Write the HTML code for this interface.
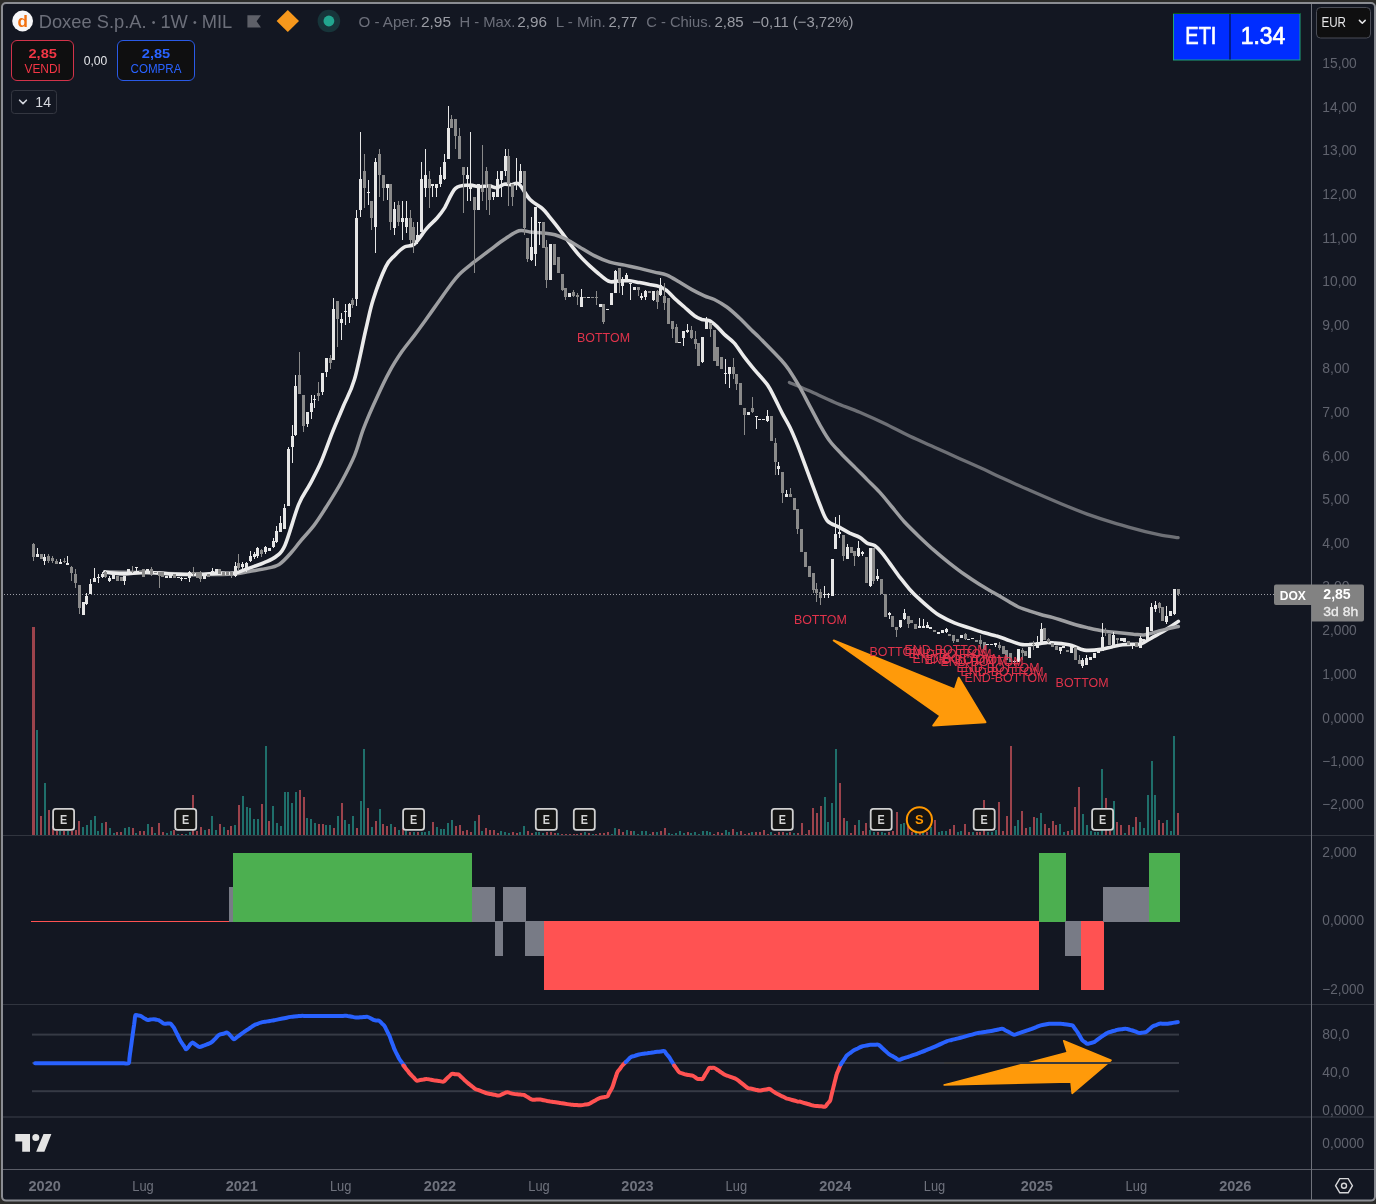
<!DOCTYPE html>
<html lang="it"><head><meta charset="utf-8"><title>Doxee S.p.A. 1W MIL</title>
<style>html,body{margin:0;padding:0;background:#2c2c2a;}svg{display:block;font-family:'Liberation Sans', 'DejaVu Sans', sans-serif;}</style>
</head><body>
<svg width="1376" height="1204" viewBox="0 0 1376 1204">
<rect x="0" y="0" width="1376" height="1204" fill="#2c2c2a"/>
<rect x="2" y="3" width="1373" height="1197.6" rx="4" ry="4" fill="#131722" stroke="#8b8d93" stroke-width="2"/>
<rect x="3" y="835" width="1371" height="1" fill="#31353f"/>
<rect x="3" y="1004" width="1371" height="1" fill="#31353f"/>
<rect x="3" y="1116.3" width="1371" height="1.4" fill="#31353f"/>
<rect x="3" y="1169" width="1371" height="1" fill="#5a5d67"/>
<rect x="1311" y="4" width="1" height="1196" fill="#6f727b"/>
<rect x="32" y="1033.6" width="1147" height="2" fill="#363a45"/>
<rect x="32" y="1062" width="1147" height="2" fill="#363a45"/>
<rect x="32" y="1090.2" width="1147" height="2" fill="#363a45"/>
<line x1="4" y1="594.5" x2="1274" y2="594.5" stroke="#9c9ea6" stroke-width="1" stroke-dasharray="1 2" shape-rendering="crispEdges"/>
<g shape-rendering="crispEdges">
<rect x="32" y="627" width="3" height="208" fill="#9c434c"/>
<rect x="36" y="730" width="2" height="105" fill="#1f6f6b"/>
<rect x="40" y="816" width="2" height="19" fill="#9c434c"/>
<rect x="44" y="783" width="2" height="52" fill="#1f6f6b"/>
<rect x="48" y="810" width="2" height="25" fill="#9c434c"/>
<rect x="52" y="826" width="2" height="9" fill="#9c434c"/>
<rect x="56" y="831" width="2" height="4" fill="#9c434c"/>
<rect x="59" y="831" width="2" height="4" fill="#1f6f6b"/>
<rect x="63" y="831" width="2" height="4" fill="#9c434c"/>
<rect x="67" y="831" width="2" height="4" fill="#1f6f6b"/>
<rect x="71" y="831" width="2" height="4" fill="#9c434c"/>
<rect x="75" y="830" width="2" height="5" fill="#9c434c"/>
<rect x="78" y="821" width="2" height="14" fill="#9c434c"/>
<rect x="82" y="827" width="2" height="8" fill="#1f6f6b"/>
<rect x="86" y="825" width="2" height="10" fill="#1f6f6b"/>
<rect x="90" y="820" width="2" height="15" fill="#1f6f6b"/>
<rect x="94" y="816" width="2" height="19" fill="#1f6f6b"/>
<rect x="97" y="831" width="2" height="4" fill="#1f6f6b"/>
<rect x="101" y="823" width="2" height="12" fill="#1f6f6b"/>
<rect x="105" y="822" width="2" height="13" fill="#9c434c"/>
<rect x="109" y="828" width="2" height="7" fill="#1f6f6b"/>
<rect x="113" y="833" width="2" height="2" fill="#1f6f6b"/>
<rect x="116" y="832" width="2" height="3" fill="#9c434c"/>
<rect x="120" y="832" width="2" height="3" fill="#9c434c"/>
<rect x="124" y="828" width="2" height="7" fill="#1f6f6b"/>
<rect x="128" y="827" width="2" height="8" fill="#1f6f6b"/>
<rect x="132" y="828" width="2" height="7" fill="#9c434c"/>
<rect x="135" y="833" width="2" height="2" fill="#1f6f6b"/>
<rect x="139" y="831" width="2" height="4" fill="#9c434c"/>
<rect x="143" y="831" width="2" height="4" fill="#9c434c"/>
<rect x="147" y="824" width="2" height="11" fill="#1f6f6b"/>
<rect x="151" y="827" width="2" height="8" fill="#9c434c"/>
<rect x="154" y="833" width="2" height="2" fill="#1f6f6b"/>
<rect x="158" y="823" width="2" height="12" fill="#9c434c"/>
<rect x="162" y="832" width="2" height="3" fill="#9c434c"/>
<rect x="166" y="833" width="2" height="2" fill="#1f6f6b"/>
<rect x="170" y="831" width="2" height="4" fill="#1f6f6b"/>
<rect x="173" y="830" width="2" height="5" fill="#9c434c"/>
<rect x="177" y="834" width="2" height="1" fill="#1f6f6b"/>
<rect x="181" y="834" width="2" height="1" fill="#9c434c"/>
<rect x="185" y="834" width="2" height="1" fill="#1f6f6b"/>
<rect x="189" y="832" width="2" height="3" fill="#1f6f6b"/>
<rect x="192" y="795" width="2" height="40" fill="#9c434c"/>
<rect x="196" y="831" width="2" height="4" fill="#9c434c"/>
<rect x="200" y="827" width="2" height="8" fill="#9c434c"/>
<rect x="204" y="830" width="2" height="5" fill="#1f6f6b"/>
<rect x="208" y="829" width="2" height="6" fill="#9c434c"/>
<rect x="211" y="816" width="2" height="19" fill="#1f6f6b"/>
<rect x="215" y="830" width="2" height="5" fill="#1f6f6b"/>
<rect x="219" y="824" width="2" height="11" fill="#9c434c"/>
<rect x="223" y="827" width="2" height="8" fill="#1f6f6b"/>
<rect x="227" y="830" width="2" height="5" fill="#9c434c"/>
<rect x="230" y="826" width="2" height="9" fill="#9c434c"/>
<rect x="234" y="825" width="2" height="10" fill="#1f6f6b"/>
<rect x="238" y="805" width="2" height="30" fill="#9c434c"/>
<rect x="242" y="796" width="2" height="39" fill="#1f6f6b"/>
<rect x="246" y="807" width="2" height="28" fill="#1f6f6b"/>
<rect x="249" y="808" width="2" height="27" fill="#1f6f6b"/>
<rect x="253" y="819" width="2" height="16" fill="#1f6f6b"/>
<rect x="257" y="819" width="2" height="16" fill="#1f6f6b"/>
<rect x="261" y="804" width="2" height="31" fill="#9c434c"/>
<rect x="265" y="746" width="2" height="89" fill="#1f6f6b"/>
<rect x="268" y="821" width="2" height="14" fill="#9c434c"/>
<rect x="272" y="806" width="2" height="29" fill="#1f6f6b"/>
<rect x="276" y="823" width="2" height="12" fill="#1f6f6b"/>
<rect x="280" y="826" width="2" height="9" fill="#1f6f6b"/>
<rect x="284" y="792" width="2" height="43" fill="#1f6f6b"/>
<rect x="287" y="792" width="2" height="43" fill="#1f6f6b"/>
<rect x="291" y="803" width="2" height="32" fill="#1f6f6b"/>
<rect x="295" y="792" width="2" height="43" fill="#1f6f6b"/>
<rect x="299" y="790" width="2" height="45" fill="#9c434c"/>
<rect x="303" y="797" width="2" height="38" fill="#9c434c"/>
<rect x="306" y="818" width="2" height="17" fill="#1f6f6b"/>
<rect x="310" y="819" width="2" height="16" fill="#1f6f6b"/>
<rect x="314" y="823" width="2" height="12" fill="#1f6f6b"/>
<rect x="318" y="824" width="2" height="11" fill="#9c434c"/>
<rect x="322" y="824" width="2" height="11" fill="#9c434c"/>
<rect x="325" y="825" width="2" height="10" fill="#1f6f6b"/>
<rect x="329" y="825" width="2" height="10" fill="#1f6f6b"/>
<rect x="333" y="828" width="2" height="7" fill="#9c434c"/>
<rect x="337" y="816" width="2" height="19" fill="#1f6f6b"/>
<rect x="341" y="803" width="2" height="32" fill="#9c434c"/>
<rect x="344" y="820" width="2" height="15" fill="#1f6f6b"/>
<rect x="348" y="824" width="2" height="11" fill="#1f6f6b"/>
<rect x="352" y="816" width="2" height="19" fill="#1f6f6b"/>
<rect x="356" y="828" width="2" height="7" fill="#9c434c"/>
<rect x="360" y="801" width="2" height="34" fill="#1f6f6b"/>
<rect x="363" y="749" width="2" height="86" fill="#1f6f6b"/>
<rect x="367" y="808" width="2" height="27" fill="#9c434c"/>
<rect x="371" y="827" width="2" height="8" fill="#1f6f6b"/>
<rect x="375" y="821" width="2" height="14" fill="#9c434c"/>
<rect x="379" y="809" width="2" height="26" fill="#1f6f6b"/>
<rect x="382" y="824" width="2" height="11" fill="#9c434c"/>
<rect x="386" y="826" width="2" height="9" fill="#9c434c"/>
<rect x="390" y="824" width="2" height="11" fill="#1f6f6b"/>
<rect x="394" y="827" width="2" height="8" fill="#9c434c"/>
<rect x="398" y="830" width="2" height="5" fill="#1f6f6b"/>
<rect x="402" y="828" width="2" height="7" fill="#9c434c"/>
<rect x="405" y="831" width="2" height="4" fill="#1f6f6b"/>
<rect x="409" y="832" width="2" height="3" fill="#9c434c"/>
<rect x="413" y="832" width="2" height="3" fill="#1f6f6b"/>
<rect x="417" y="832" width="2" height="3" fill="#9c434c"/>
<rect x="421" y="832" width="2" height="3" fill="#1f6f6b"/>
<rect x="424" y="832" width="2" height="3" fill="#1f6f6b"/>
<rect x="428" y="831" width="2" height="4" fill="#1f6f6b"/>
<rect x="432" y="822" width="2" height="13" fill="#9c434c"/>
<rect x="436" y="827" width="2" height="8" fill="#1f6f6b"/>
<rect x="440" y="829" width="2" height="6" fill="#1f6f6b"/>
<rect x="443" y="829" width="2" height="6" fill="#1f6f6b"/>
<rect x="447" y="823" width="2" height="12" fill="#1f6f6b"/>
<rect x="451" y="820" width="2" height="15" fill="#1f6f6b"/>
<rect x="455" y="826" width="2" height="9" fill="#9c434c"/>
<rect x="459" y="825" width="2" height="10" fill="#9c434c"/>
<rect x="462" y="831" width="2" height="4" fill="#9c434c"/>
<rect x="466" y="830" width="2" height="5" fill="#9c434c"/>
<rect x="470" y="832" width="2" height="3" fill="#9c434c"/>
<rect x="474" y="821" width="2" height="14" fill="#1f6f6b"/>
<rect x="478" y="815" width="2" height="20" fill="#9c434c"/>
<rect x="481" y="831" width="2" height="4" fill="#1f6f6b"/>
<rect x="485" y="828" width="2" height="7" fill="#9c434c"/>
<rect x="489" y="830" width="2" height="5" fill="#9c434c"/>
<rect x="493" y="830" width="2" height="5" fill="#9c434c"/>
<rect x="497" y="833" width="2" height="2" fill="#9c434c"/>
<rect x="500" y="831" width="2" height="4" fill="#1f6f6b"/>
<rect x="504" y="832" width="2" height="3" fill="#1f6f6b"/>
<rect x="508" y="833" width="2" height="2" fill="#1f6f6b"/>
<rect x="512" y="832" width="2" height="3" fill="#9c434c"/>
<rect x="516" y="833" width="2" height="2" fill="#9c434c"/>
<rect x="519" y="832" width="2" height="3" fill="#1f6f6b"/>
<rect x="523" y="826" width="2" height="9" fill="#1f6f6b"/>
<rect x="527" y="831" width="2" height="4" fill="#9c434c"/>
<rect x="531" y="833" width="2" height="2" fill="#9c434c"/>
<rect x="535" y="832" width="2" height="3" fill="#1f6f6b"/>
<rect x="538" y="832" width="2" height="3" fill="#1f6f6b"/>
<rect x="542" y="833" width="2" height="2" fill="#1f6f6b"/>
<rect x="546" y="832" width="2" height="3" fill="#9c434c"/>
<rect x="550" y="832" width="2" height="3" fill="#9c434c"/>
<rect x="554" y="833" width="2" height="2" fill="#9c434c"/>
<rect x="557" y="833" width="2" height="2" fill="#1f6f6b"/>
<rect x="561" y="834" width="2" height="1" fill="#9c434c"/>
<rect x="565" y="834" width="2" height="1" fill="#9c434c"/>
<rect x="569" y="834" width="2" height="1" fill="#9c434c"/>
<rect x="573" y="834" width="2" height="1" fill="#9c434c"/>
<rect x="576" y="834" width="2" height="1" fill="#9c434c"/>
<rect x="580" y="833" width="2" height="2" fill="#9c434c"/>
<rect x="584" y="832" width="2" height="3" fill="#1f6f6b"/>
<rect x="588" y="833" width="2" height="2" fill="#9c434c"/>
<rect x="592" y="834" width="2" height="1" fill="#1f6f6b"/>
<rect x="595" y="834" width="2" height="1" fill="#9c434c"/>
<rect x="599" y="833" width="2" height="2" fill="#9c434c"/>
<rect x="603" y="833" width="2" height="2" fill="#9c434c"/>
<rect x="607" y="832" width="2" height="3" fill="#9c434c"/>
<rect x="611" y="834" width="2" height="1" fill="#1f6f6b"/>
<rect x="614" y="828" width="2" height="7" fill="#1f6f6b"/>
<rect x="618" y="829" width="2" height="6" fill="#9c434c"/>
<rect x="622" y="832" width="2" height="3" fill="#9c434c"/>
<rect x="626" y="830" width="2" height="5" fill="#1f6f6b"/>
<rect x="630" y="831" width="2" height="4" fill="#9c434c"/>
<rect x="633" y="831" width="2" height="4" fill="#1f6f6b"/>
<rect x="637" y="834" width="2" height="1" fill="#1f6f6b"/>
<rect x="641" y="831" width="2" height="4" fill="#1f6f6b"/>
<rect x="645" y="831" width="2" height="4" fill="#1f6f6b"/>
<rect x="649" y="834" width="2" height="1" fill="#1f6f6b"/>
<rect x="652" y="832" width="2" height="3" fill="#9c434c"/>
<rect x="656" y="832" width="2" height="3" fill="#1f6f6b"/>
<rect x="660" y="831" width="2" height="4" fill="#9c434c"/>
<rect x="664" y="828" width="2" height="7" fill="#9c434c"/>
<rect x="668" y="833" width="2" height="2" fill="#1f6f6b"/>
<rect x="671" y="834" width="2" height="1" fill="#1f6f6b"/>
<rect x="675" y="833" width="2" height="2" fill="#1f6f6b"/>
<rect x="679" y="831" width="2" height="4" fill="#1f6f6b"/>
<rect x="683" y="833" width="2" height="2" fill="#1f6f6b"/>
<rect x="687" y="832" width="2" height="3" fill="#9c434c"/>
<rect x="690" y="833" width="2" height="2" fill="#1f6f6b"/>
<rect x="694" y="832" width="2" height="3" fill="#1f6f6b"/>
<rect x="698" y="834" width="2" height="1" fill="#1f6f6b"/>
<rect x="702" y="831" width="2" height="4" fill="#1f6f6b"/>
<rect x="706" y="831" width="2" height="4" fill="#1f6f6b"/>
<rect x="709" y="832" width="2" height="3" fill="#1f6f6b"/>
<rect x="713" y="834" width="2" height="1" fill="#9c434c"/>
<rect x="717" y="832" width="2" height="3" fill="#9c434c"/>
<rect x="721" y="833" width="2" height="2" fill="#9c434c"/>
<rect x="725" y="830" width="2" height="5" fill="#1f6f6b"/>
<rect x="728" y="832" width="2" height="3" fill="#1f6f6b"/>
<rect x="732" y="829" width="2" height="6" fill="#9c434c"/>
<rect x="736" y="832" width="2" height="3" fill="#1f6f6b"/>
<rect x="740" y="831" width="2" height="4" fill="#9c434c"/>
<rect x="744" y="834" width="2" height="1" fill="#9c434c"/>
<rect x="748" y="833" width="2" height="2" fill="#9c434c"/>
<rect x="751" y="832" width="2" height="3" fill="#1f6f6b"/>
<rect x="755" y="832" width="2" height="3" fill="#9c434c"/>
<rect x="759" y="832" width="2" height="3" fill="#9c434c"/>
<rect x="763" y="830" width="2" height="5" fill="#9c434c"/>
<rect x="767" y="834" width="2" height="1" fill="#9c434c"/>
<rect x="770" y="832" width="2" height="3" fill="#1f6f6b"/>
<rect x="774" y="834" width="2" height="1" fill="#9c434c"/>
<rect x="778" y="832" width="2" height="3" fill="#9c434c"/>
<rect x="782" y="832" width="2" height="3" fill="#9c434c"/>
<rect x="786" y="833" width="2" height="2" fill="#1f6f6b"/>
<rect x="789" y="832" width="2" height="3" fill="#9c434c"/>
<rect x="793" y="833" width="2" height="2" fill="#1f6f6b"/>
<rect x="797" y="833" width="2" height="2" fill="#9c434c"/>
<rect x="801" y="823" width="2" height="12" fill="#9c434c"/>
<rect x="805" y="834" width="2" height="1" fill="#9c434c"/>
<rect x="808" y="830" width="2" height="5" fill="#9c434c"/>
<rect x="812" y="808" width="2" height="27" fill="#9c434c"/>
<rect x="816" y="813" width="2" height="22" fill="#9c434c"/>
<rect x="820" y="806" width="2" height="29" fill="#9c434c"/>
<rect x="824" y="797" width="2" height="38" fill="#1f6f6b"/>
<rect x="827" y="822" width="2" height="13" fill="#1f6f6b"/>
<rect x="831" y="803" width="2" height="32" fill="#1f6f6b"/>
<rect x="835" y="749" width="2" height="86" fill="#1f6f6b"/>
<rect x="839" y="783" width="2" height="52" fill="#9c434c"/>
<rect x="843" y="818" width="2" height="17" fill="#9c434c"/>
<rect x="846" y="821" width="2" height="14" fill="#1f6f6b"/>
<rect x="850" y="833" width="2" height="2" fill="#9c434c"/>
<rect x="854" y="825" width="2" height="10" fill="#9c434c"/>
<rect x="858" y="820" width="2" height="15" fill="#1f6f6b"/>
<rect x="862" y="831" width="2" height="4" fill="#9c434c"/>
<rect x="865" y="823" width="2" height="12" fill="#9c434c"/>
<rect x="869" y="830" width="2" height="5" fill="#1f6f6b"/>
<rect x="873" y="832" width="2" height="3" fill="#1f6f6b"/>
<rect x="877" y="832" width="2" height="3" fill="#9c434c"/>
<rect x="881" y="832" width="2" height="3" fill="#1f6f6b"/>
<rect x="884" y="833" width="2" height="2" fill="#1f6f6b"/>
<rect x="888" y="832" width="2" height="3" fill="#9c434c"/>
<rect x="892" y="831" width="2" height="4" fill="#9c434c"/>
<rect x="896" y="812" width="2" height="23" fill="#9c434c"/>
<rect x="900" y="824" width="2" height="11" fill="#1f6f6b"/>
<rect x="903" y="823" width="2" height="12" fill="#1f6f6b"/>
<rect x="907" y="826" width="2" height="9" fill="#9c434c"/>
<rect x="911" y="832" width="2" height="3" fill="#9c434c"/>
<rect x="915" y="830" width="2" height="5" fill="#1f6f6b"/>
<rect x="919" y="833" width="2" height="2" fill="#9c434c"/>
<rect x="922" y="832" width="2" height="3" fill="#1f6f6b"/>
<rect x="926" y="832" width="2" height="3" fill="#9c434c"/>
<rect x="930" y="827" width="2" height="8" fill="#1f6f6b"/>
<rect x="934" y="820" width="2" height="15" fill="#9c434c"/>
<rect x="938" y="832" width="2" height="3" fill="#1f6f6b"/>
<rect x="941" y="831" width="2" height="4" fill="#1f6f6b"/>
<rect x="945" y="831" width="2" height="4" fill="#1f6f6b"/>
<rect x="949" y="829" width="2" height="6" fill="#9c434c"/>
<rect x="953" y="825" width="2" height="10" fill="#9c434c"/>
<rect x="957" y="832" width="2" height="3" fill="#1f6f6b"/>
<rect x="960" y="831" width="2" height="4" fill="#1f6f6b"/>
<rect x="964" y="824" width="2" height="11" fill="#9c434c"/>
<rect x="968" y="832" width="2" height="3" fill="#9c434c"/>
<rect x="972" y="832" width="2" height="3" fill="#1f6f6b"/>
<rect x="976" y="832" width="2" height="3" fill="#9c434c"/>
<rect x="979" y="832" width="2" height="3" fill="#9c434c"/>
<rect x="983" y="800" width="2" height="35" fill="#9c434c"/>
<rect x="987" y="832" width="2" height="3" fill="#1f6f6b"/>
<rect x="991" y="832" width="2" height="3" fill="#1f6f6b"/>
<rect x="995" y="830" width="2" height="5" fill="#1f6f6b"/>
<rect x="998" y="802" width="2" height="33" fill="#9c434c"/>
<rect x="1002" y="831" width="2" height="4" fill="#9c434c"/>
<rect x="1006" y="816" width="2" height="19" fill="#9c434c"/>
<rect x="1010" y="746" width="2" height="89" fill="#9c434c"/>
<rect x="1014" y="826" width="2" height="9" fill="#1f6f6b"/>
<rect x="1017" y="820" width="2" height="15" fill="#1f6f6b"/>
<rect x="1021" y="811" width="2" height="24" fill="#9c434c"/>
<rect x="1025" y="828" width="2" height="7" fill="#9c434c"/>
<rect x="1029" y="827" width="2" height="8" fill="#1f6f6b"/>
<rect x="1033" y="817" width="2" height="18" fill="#9c434c"/>
<rect x="1036" y="818" width="2" height="17" fill="#1f6f6b"/>
<rect x="1040" y="813" width="2" height="22" fill="#1f6f6b"/>
<rect x="1044" y="824" width="2" height="11" fill="#9c434c"/>
<rect x="1048" y="828" width="2" height="7" fill="#9c434c"/>
<rect x="1052" y="821" width="2" height="14" fill="#9c434c"/>
<rect x="1055" y="825" width="2" height="10" fill="#9c434c"/>
<rect x="1059" y="824" width="2" height="11" fill="#1f6f6b"/>
<rect x="1063" y="832" width="2" height="3" fill="#1f6f6b"/>
<rect x="1067" y="831" width="2" height="4" fill="#9c434c"/>
<rect x="1071" y="830" width="2" height="5" fill="#1f6f6b"/>
<rect x="1074" y="807" width="2" height="28" fill="#9c434c"/>
<rect x="1078" y="787" width="2" height="48" fill="#9c434c"/>
<rect x="1082" y="814" width="2" height="21" fill="#1f6f6b"/>
<rect x="1086" y="825" width="2" height="10" fill="#1f6f6b"/>
<rect x="1090" y="831" width="2" height="4" fill="#1f6f6b"/>
<rect x="1094" y="832" width="2" height="3" fill="#1f6f6b"/>
<rect x="1097" y="832" width="2" height="3" fill="#1f6f6b"/>
<rect x="1101" y="769" width="2" height="66" fill="#1f6f6b"/>
<rect x="1105" y="798" width="2" height="37" fill="#9c434c"/>
<rect x="1109" y="831" width="2" height="4" fill="#9c434c"/>
<rect x="1113" y="801" width="2" height="34" fill="#1f6f6b"/>
<rect x="1116" y="822" width="2" height="13" fill="#9c434c"/>
<rect x="1120" y="825" width="2" height="10" fill="#9c434c"/>
<rect x="1124" y="833" width="2" height="2" fill="#1f6f6b"/>
<rect x="1128" y="825" width="2" height="10" fill="#9c434c"/>
<rect x="1132" y="827" width="2" height="8" fill="#1f6f6b"/>
<rect x="1135" y="817" width="2" height="18" fill="#9c434c"/>
<rect x="1139" y="822" width="2" height="13" fill="#1f6f6b"/>
<rect x="1143" y="828" width="2" height="7" fill="#1f6f6b"/>
<rect x="1147" y="795" width="2" height="40" fill="#1f6f6b"/>
<rect x="1151" y="761" width="2" height="74" fill="#1f6f6b"/>
<rect x="1154" y="795" width="2" height="40" fill="#1f6f6b"/>
<rect x="1158" y="820" width="2" height="15" fill="#9c434c"/>
<rect x="1162" y="823" width="2" height="12" fill="#9c434c"/>
<rect x="1166" y="820" width="2" height="15" fill="#1f6f6b"/>
<rect x="1170" y="831" width="2" height="4" fill="#1f6f6b"/>
<rect x="1173" y="736" width="2" height="99" fill="#1f6f6b"/>
<rect x="1177" y="813" width="2" height="22" fill="#9c434c"/>
</g>
<defs><clipPath id="cl"><rect x="0" y="0" width="262" height="1204"/></clipPath><clipPath id="cr"><rect x="262" y="0" width="1200" height="1204"/></clipPath></defs>
<path d="M104.7,571.9C111.4,572 129.6,572.2 144.6,572.6C159.5,573 179.5,574.1 194.4,574.4C209.4,574.6 225.1,574.4 234.3,573.9C243.4,573.4 244.3,572.2 249.2,571.4C254.2,570.5 259.2,570 264.2,568.9C269.2,567.7 274.5,567.2 279.1,564.4C283.7,561.6 288.2,555.9 291.7,552C295.3,548 297,545.2 300.7,540.8C304.5,536.3 309.7,531 314.2,525.1C318.7,519.1 323.1,512 327.6,504.9C332.1,497.8 336.6,490.7 341.1,482.5C345.6,474.2 350.8,464.5 354.5,455.6C358.3,446.6 359.8,438.4 363.5,428.7C367.2,418.9 372.6,406.8 377,397.3C381.3,387.7 385.3,379.2 389.5,371.6C393.6,364 397.8,357.6 401.9,351.6C406.1,345.6 410.6,340.4 414.4,335.4C418.1,330.4 420.6,326.9 424.4,321.7C428.1,316.5 432.7,310.1 436.8,304.3C441,298.5 445.5,291.8 449.3,286.8C453,281.9 455.1,278.5 459.2,274.4C463.4,270.2 469.2,265.9 474.2,261.9C479.2,258 484.2,254.5 489.1,250.7C494.1,247 499.1,242.8 504.1,239.5C509.1,236.2 514.7,232 519,230.8C523.4,229.5 526.1,231.7 530,232C533.9,232.4 538.3,232.6 542.4,233C546.5,233.5 550.7,233.6 554.9,234.8C559,235.9 563.2,237.7 567.3,239.7C571.5,241.8 575.2,244.5 579.8,247.2C584.3,249.9 589.7,253.4 594.7,255.9C599.7,258.4 604.7,260.6 609.7,262.2C614.7,263.7 619.6,264.1 624.6,265.1C629.6,266.2 634.6,267.2 639.6,268.4C644.6,269.6 650,271 654.5,272.1C659.1,273.2 662.8,273.5 667,275.1C671.1,276.8 675.3,279.7 679.4,282.1C683.6,284.5 687.7,287.3 691.9,289.6C696,291.9 700.6,294.1 704.4,295.8C708.1,297.5 710.6,297.7 714.3,299.5C718.1,301.4 722.6,304 726.8,307C730.9,310 735.1,313.9 739.2,317.7C743.4,321.6 748.4,326.9 751.7,330.2C755,333.5 754.3,332.4 759.2,337.4C764.1,342.4 776.1,354.4 781.2,360C786.3,365.6 786.8,366.6 789.9,371.2C793,375.8 796.5,381.6 799.9,387.4C803.2,393.2 806.5,399.9 809.8,406.1C813.2,412.3 816.5,419 819.8,424.8C823.1,430.6 826,436 829.8,441C833.5,446 838.1,450.3 842.2,454.7C846.4,459 850.5,463 854.7,467.1C858.8,471.3 863,475.4 867.1,479.6C871.3,483.8 875.4,487.5 879.6,492.1C883.8,496.6 887.9,502 892.1,507C896.2,512 900,517 904.5,522C909.1,526.9 914.5,532.1 919.5,536.9C924.5,541.7 929.4,546.3 934.4,550.6C939.4,555 944.4,559.1 949.4,563.1C954.4,567 959.3,570.8 964.3,574.3C969.3,577.8 974.3,581.1 979.3,584.3C984.3,587.4 989.3,590.1 994.2,593C999.1,595.8 1004.9,599.2 1008.7,601.4C1012.6,603.7 1014.1,604.9 1017.4,606.5C1020.8,608.1 1025.2,609.5 1029.1,610.9C1032.9,612.2 1036.8,613.4 1040.7,614.5C1044.6,615.6 1048.4,616.3 1052.3,617.4C1056.2,618.5 1060.1,619.8 1064,621C1067.8,622.3 1071.7,623.6 1075.6,624.7C1079.5,625.8 1082.4,626.5 1087.2,627.6C1092,628.7 1099.2,630.4 1104.5,631.2C1109.8,632.1 1114.2,632.2 1119.1,632.7C1123.9,633.2 1129.5,633.8 1133.6,634.2C1137.7,634.5 1140.8,635.1 1143.8,634.9C1146.8,634.7 1149.2,633.7 1151.8,633.1C1154.3,632.4 1156.6,631.6 1159,630.9C1161.5,630.2 1163.1,629.8 1166.3,629.1C1169.5,628.3 1176.3,627 1178.3,626.5" clip-path="url(#cl)" fill="none" stroke="#9d9ea1" stroke-width="3.5" stroke-linecap="round" stroke-linejoin="round"/>
<path d="M104.7,571.9C106,572.1 108.9,572.8 112.2,573.1C115.5,573.4 119.3,574 124.7,573.9C130,573.7 138.8,572.5 144.6,572.4C150.4,572.2 153.7,572.8 159.5,573.1C165.3,573.4 172.8,574.1 179.5,574.4C186.1,574.6 192.8,574.6 199.4,574.4C206,574.1 213.5,573.3 219.3,573.1C225.1,572.9 230.1,573.6 234.3,573.1C238.4,572.6 240.9,571 244.3,569.9C247.6,568.7 250.9,567.6 254.2,566.4C257.5,565.2 260.5,564.3 264.2,562.6C267.8,561 272.6,559.4 276.1,556.5C279.5,553.6 281.3,553.8 285,545.2C288.8,536.7 294.4,515 298.5,504.9C302.6,494.8 305.9,491.8 309.7,484.7C313.4,477.6 317.2,470.9 320.9,462.3C324.6,453.7 328.4,442.5 332.1,433.1C335.8,423.8 339.6,415.2 343.3,406.2C347.1,397.3 350.8,392 354.5,379.3C358.3,366.6 362.6,343.3 365.7,330C368.9,316.7 369.9,309.8 373.3,299.3C376.6,288.8 382.2,274.2 385.7,266.9C389.3,259.6 391.3,259 394.5,255.7C397.6,252.4 401.1,248.9 404.4,247C407.7,245 410.6,247.1 414.4,244C418.1,240.9 423.1,232.6 426.8,228.3C430.6,224 433.9,221.6 436.8,218.3C439.7,215 441.2,213.3 444.3,208.4C447.4,203.4 451.3,192.3 455.5,188.4C459.7,184.6 465.3,185.5 469.2,185.2C473.1,184.9 475.8,186.6 479.2,186.7C482.5,186.8 486.2,185.8 489.1,185.9C492,186.1 494.1,188 496.6,187.7C499.1,187.4 501.6,184.7 504.1,184.2C506.6,183.7 509.1,184.7 511.6,184.7C514.1,184.7 516,181.7 519,184.2C522.1,186.7 526.1,195.6 530,199.6C533.9,203.7 539.1,205.6 542.4,208.6C545.7,211.5 547,213.8 549.9,217.3C552.8,220.8 556.5,225.4 559.8,229.8C563.2,234.1 566.5,239.1 569.8,243.5C573.1,247.8 576.4,252.2 579.8,255.9C583.1,259.7 586.4,262.8 589.7,265.9C593.1,269 596.4,272 599.7,274.6C603,277.2 606.3,280.6 609.7,281.6C613,282.6 616.3,281 619.6,280.8C623,280.7 626.3,280.6 629.6,280.8C632.9,281.1 636.2,282 639.6,282.6C642.9,283.2 646.2,283.9 649.5,284.6C652.9,285.2 656.6,285.5 659.5,286.6C662.4,287.6 664.5,288.9 667,290.8C669.5,292.8 671.5,295.6 674.5,298.3C677.4,301 681.1,304.1 684.4,307C687.7,309.9 691.5,313.7 694.4,315.7C697.3,317.8 699.4,318.6 701.9,319.5C704.4,320.3 706.8,319.6 709.3,320.7C711.8,321.9 714.3,324.2 716.8,326.4C719.3,328.7 721.4,331.6 724.3,334.4C727.2,337.2 730.9,339.4 734.3,343.1C737.6,346.9 740.9,352.5 744.2,356.8C747.5,361.2 750.3,364.6 754.2,369.3C758.1,374 764,380 767.5,384.9C770.9,389.8 772.5,393.8 775,398.6C777.4,403.4 779.9,408.8 782.4,413.6C784.9,418.3 787.4,422.1 789.9,427.3C792.4,432.5 794.9,438.5 797.4,444.7C799.9,450.9 802.4,458 804.9,464.7C807.3,471.3 809.8,477.9 812.3,484.6C814.8,491.2 817.3,498.5 819.8,504.5C822.3,510.5 824,516.9 827.3,520.7C830.6,524.5 836,525.4 839.7,527.4C843.5,529.5 846.4,531.5 849.7,533.2C853,534.8 856.8,535.7 859.7,537.4C862.6,539.1 864.7,541.8 867.1,543.1C869.6,544.5 872.1,544 874.6,545.6C877.1,547.3 879.6,550.2 882.1,553.1C884.6,556 886.7,559.1 889.6,563.1C892.5,567 896.2,572.4 899.5,576.8C902.9,581.1 906.2,585.5 909.5,589.2C912.8,593 916.1,596.1 919.5,599.2C922.8,602.3 926.1,605.2 929.4,607.9C932.8,610.6 935.2,612.9 939.4,615.4C943.6,617.9 949.4,620.8 954.4,622.9C959.3,625 964.3,626.2 969.3,627.9C974.3,629.5 979.7,631.5 984.3,632.8C988.8,634.2 993.1,635 996.7,636.1C1000.3,637.1 1001.9,637.8 1005.8,639.2C1009.8,640.6 1016.5,643.4 1020.3,644.3C1024.2,645.2 1026.2,644.6 1029.1,644.6C1032,644.5 1034.9,644.4 1037.8,644C1040.7,643.7 1043.6,642.7 1046.5,642.6C1049.4,642.4 1052.3,642.9 1055.2,643.1C1058.1,643.4 1061,643.6 1064,644C1066.9,644.4 1069.3,644.7 1072.7,645.8C1076.1,646.8 1079.6,649.5 1084.3,650.1C1089,650.7 1096.3,650 1100.9,649.4C1105.5,648.9 1108.2,647.7 1111.8,646.9C1115.4,646.1 1119.1,645.1 1122.7,644.7C1126.3,644.3 1130.6,644.5 1133.6,644.3C1136.6,644.2 1137.8,645.1 1140.9,644C1143.9,642.9 1148.7,639.5 1151.8,637.8C1154.8,636.1 1156.6,635.2 1159,633.8C1161.5,632.4 1163.1,631.5 1166.3,629.4C1169.5,627.4 1176.3,622.8 1178.3,621.4" fill="none" stroke="#ebebeb" stroke-width="3.6" stroke-linecap="round" stroke-linejoin="round"/>
<path d="M789.4,382.4C792.8,383.9 802.3,387.8 809.8,391.1C817.4,394.5 826.4,398.8 834.8,402.4C843.1,405.9 851.4,408.8 859.7,412.3C868,415.9 876.3,419.6 884.6,423.5C892.9,427.5 901.2,432.1 909.5,436C917.8,439.9 926.1,443.5 934.4,447.2C942.7,450.9 951,454.7 959.3,458.4C967.6,462.2 977.5,466.5 984.3,469.6C991,472.7 992.5,473.6 1000,477.1C1007.5,480.5 1019.4,485.9 1029.1,490.1C1038.8,494.4 1048.4,498.5 1058.1,502.5C1067.8,506.5 1077.5,510.6 1087.2,514.1C1096.9,517.6 1106.6,520.7 1116.3,523.6C1126,526.5 1138.1,529.7 1145.3,531.6C1152.6,533.4 1154.4,533.8 1159.9,534.8C1165.3,535.8 1175,537.2 1178.1,537.7" fill="none" stroke="#6e7076" stroke-width="3.3" stroke-linecap="round" stroke-linejoin="round"/>
<path d="M104.7,571.9C111.4,572 129.6,572.2 144.6,572.6C159.5,573 179.5,574.1 194.4,574.4C209.4,574.6 225.1,574.4 234.3,573.9C243.4,573.4 244.3,572.2 249.2,571.4C254.2,570.5 259.2,570 264.2,568.9C269.2,567.7 274.5,567.2 279.1,564.4C283.7,561.6 288.2,555.9 291.7,552C295.3,548 297,545.2 300.7,540.8C304.5,536.3 309.7,531 314.2,525.1C318.7,519.1 323.1,512 327.6,504.9C332.1,497.8 336.6,490.7 341.1,482.5C345.6,474.2 350.8,464.5 354.5,455.6C358.3,446.6 359.8,438.4 363.5,428.7C367.2,418.9 372.6,406.8 377,397.3C381.3,387.7 385.3,379.2 389.5,371.6C393.6,364 397.8,357.6 401.9,351.6C406.1,345.6 410.6,340.4 414.4,335.4C418.1,330.4 420.6,326.9 424.4,321.7C428.1,316.5 432.7,310.1 436.8,304.3C441,298.5 445.5,291.8 449.3,286.8C453,281.9 455.1,278.5 459.2,274.4C463.4,270.2 469.2,265.9 474.2,261.9C479.2,258 484.2,254.5 489.1,250.7C494.1,247 499.1,242.8 504.1,239.5C509.1,236.2 514.7,232 519,230.8C523.4,229.5 526.1,231.7 530,232C533.9,232.4 538.3,232.6 542.4,233C546.5,233.5 550.7,233.6 554.9,234.8C559,235.9 563.2,237.7 567.3,239.7C571.5,241.8 575.2,244.5 579.8,247.2C584.3,249.9 589.7,253.4 594.7,255.9C599.7,258.4 604.7,260.6 609.7,262.2C614.7,263.7 619.6,264.1 624.6,265.1C629.6,266.2 634.6,267.2 639.6,268.4C644.6,269.6 650,271 654.5,272.1C659.1,273.2 662.8,273.5 667,275.1C671.1,276.8 675.3,279.7 679.4,282.1C683.6,284.5 687.7,287.3 691.9,289.6C696,291.9 700.6,294.1 704.4,295.8C708.1,297.5 710.6,297.7 714.3,299.5C718.1,301.4 722.6,304 726.8,307C730.9,310 735.1,313.9 739.2,317.7C743.4,321.6 748.4,326.9 751.7,330.2C755,333.5 754.3,332.4 759.2,337.4C764.1,342.4 776.1,354.4 781.2,360C786.3,365.6 786.8,366.6 789.9,371.2C793,375.8 796.5,381.6 799.9,387.4C803.2,393.2 806.5,399.9 809.8,406.1C813.2,412.3 816.5,419 819.8,424.8C823.1,430.6 826,436 829.8,441C833.5,446 838.1,450.3 842.2,454.7C846.4,459 850.5,463 854.7,467.1C858.8,471.3 863,475.4 867.1,479.6C871.3,483.8 875.4,487.5 879.6,492.1C883.8,496.6 887.9,502 892.1,507C896.2,512 900,517 904.5,522C909.1,526.9 914.5,532.1 919.5,536.9C924.5,541.7 929.4,546.3 934.4,550.6C939.4,555 944.4,559.1 949.4,563.1C954.4,567 959.3,570.8 964.3,574.3C969.3,577.8 974.3,581.1 979.3,584.3C984.3,587.4 989.3,590.1 994.2,593C999.1,595.8 1004.9,599.2 1008.7,601.4C1012.6,603.7 1014.1,604.9 1017.4,606.5C1020.8,608.1 1025.2,609.5 1029.1,610.9C1032.9,612.2 1036.8,613.4 1040.7,614.5C1044.6,615.6 1048.4,616.3 1052.3,617.4C1056.2,618.5 1060.1,619.8 1064,621C1067.8,622.3 1071.7,623.6 1075.6,624.7C1079.5,625.8 1082.4,626.5 1087.2,627.6C1092,628.7 1099.2,630.4 1104.5,631.2C1109.8,632.1 1114.2,632.2 1119.1,632.7C1123.9,633.2 1129.5,633.8 1133.6,634.2C1137.7,634.5 1140.8,635.1 1143.8,634.9C1146.8,634.7 1149.2,633.7 1151.8,633.1C1154.3,632.4 1156.6,631.6 1159,630.9C1161.5,630.2 1163.1,629.8 1166.3,629.1C1169.5,628.3 1176.3,627 1178.3,626.5" clip-path="url(#cr)" fill="none" stroke="#9d9ea1" stroke-width="3.5" stroke-linecap="round" stroke-linejoin="round"/>
<g shape-rendering="crispEdges">
<rect x="33" y="543" width="1" height="18" fill="#8a8a8a"/>
<rect x="32" y="544" width="3" height="13" fill="#8a8a8a"/>
<rect x="37" y="548" width="1" height="9" fill="#e6e6e6"/>
<rect x="36" y="554" width="3" height="3" fill="#e6e6e6"/>
<rect x="40" y="554" width="3" height="5" fill="#8a8a8a"/>
<rect x="44" y="554" width="1" height="11" fill="#e6e6e6"/>
<rect x="43" y="557" width="3" height="4" fill="#e6e6e6"/>
<rect x="48" y="554" width="1" height="9" fill="#8a8a8a"/>
<rect x="47" y="556" width="3" height="5" fill="#8a8a8a"/>
<rect x="52" y="556" width="1" height="7" fill="#8a8a8a"/>
<rect x="51" y="558" width="3" height="3" fill="#8a8a8a"/>
<rect x="56" y="559" width="1" height="5" fill="#8a8a8a"/>
<rect x="55" y="561" width="3" height="3" fill="#8a8a8a"/>
<rect x="60" y="559" width="1" height="5" fill="#e6e6e6"/>
<rect x="59" y="562" width="3" height="2" fill="#e6e6e6"/>
<rect x="64" y="558" width="1" height="5" fill="#8a8a8a"/>
<rect x="63" y="561" width="3" height="1" fill="#8a8a8a"/>
<rect x="67" y="556" width="1" height="9" fill="#e6e6e6"/>
<rect x="66" y="563" width="3" height="2" fill="#e6e6e6"/>
<rect x="71" y="566" width="1" height="15" fill="#8a8a8a"/>
<rect x="70" y="567" width="3" height="6" fill="#8a8a8a"/>
<rect x="75" y="569" width="1" height="19" fill="#8a8a8a"/>
<rect x="74" y="574" width="3" height="9" fill="#8a8a8a"/>
<rect x="79" y="585" width="1" height="29" fill="#8a8a8a"/>
<rect x="78" y="585" width="3" height="23" fill="#8a8a8a"/>
<rect x="82" y="602" width="3" height="13" fill="#e6e6e6"/>
<rect x="86" y="593" width="1" height="12" fill="#e6e6e6"/>
<rect x="85" y="596" width="3" height="8" fill="#e6e6e6"/>
<rect x="90" y="579" width="1" height="15" fill="#e6e6e6"/>
<rect x="89" y="584" width="3" height="10" fill="#e6e6e6"/>
<rect x="94" y="568" width="1" height="14" fill="#e6e6e6"/>
<rect x="93" y="578" width="3" height="4" fill="#e6e6e6"/>
<rect x="98" y="574" width="1" height="9" fill="#e6e6e6"/>
<rect x="97" y="577" width="3" height="1" fill="#e6e6e6"/>
<rect x="102" y="572" width="1" height="6" fill="#e6e6e6"/>
<rect x="101" y="574" width="3" height="3" fill="#e6e6e6"/>
<rect x="105" y="571" width="1" height="7" fill="#8a8a8a"/>
<rect x="104" y="572" width="3" height="5" fill="#8a8a8a"/>
<rect x="109" y="576" width="1" height="6" fill="#e6e6e6"/>
<rect x="108" y="578" width="3" height="3" fill="#e6e6e6"/>
<rect x="112" y="574" width="3" height="5" fill="#e6e6e6"/>
<rect x="116" y="576" width="3" height="5" fill="#8a8a8a"/>
<rect x="120" y="577" width="3" height="4" fill="#8a8a8a"/>
<rect x="124" y="576" width="1" height="9" fill="#e6e6e6"/>
<rect x="123" y="576" width="3" height="5" fill="#e6e6e6"/>
<rect x="128" y="569" width="1" height="4" fill="#e6e6e6"/>
<rect x="127" y="569" width="3" height="3" fill="#e6e6e6"/>
<rect x="132" y="566" width="1" height="7" fill="#8a8a8a"/>
<rect x="131" y="571" width="3" height="1" fill="#8a8a8a"/>
<rect x="136" y="567" width="1" height="4" fill="#e6e6e6"/>
<rect x="135" y="567" width="3" height="1" fill="#e6e6e6"/>
<rect x="139" y="571" width="3" height="1" fill="#8a8a8a"/>
<rect x="142" y="569" width="3" height="8" fill="#8a8a8a"/>
<rect x="146" y="569" width="3" height="5" fill="#e6e6e6"/>
<rect x="151" y="567" width="1" height="9" fill="#8a8a8a"/>
<rect x="150" y="569" width="3" height="5" fill="#8a8a8a"/>
<rect x="154" y="572" width="3" height="1" fill="#8a8a8a"/>
<rect x="159" y="572" width="1" height="16" fill="#8a8a8a"/>
<rect x="158" y="572" width="3" height="4" fill="#8a8a8a"/>
<rect x="161" y="572" width="3" height="5" fill="#8a8a8a"/>
<rect x="165" y="576" width="3" height="2" fill="#e6e6e6"/>
<rect x="169" y="574" width="3" height="4" fill="#e6e6e6"/>
<rect x="173" y="574" width="3" height="4" fill="#8a8a8a"/>
<rect x="177" y="577" width="3" height="1" fill="#e6e6e6"/>
<rect x="181" y="577" width="1" height="4" fill="#e6e6e6"/>
<rect x="180" y="578" width="3" height="1" fill="#e6e6e6"/>
<rect x="184" y="578" width="3" height="1" fill="#e6e6e6"/>
<rect x="189" y="571" width="1" height="11" fill="#e6e6e6"/>
<rect x="188" y="572" width="3" height="6" fill="#e6e6e6"/>
<rect x="193" y="567" width="1" height="9" fill="#8a8a8a"/>
<rect x="192" y="572" width="3" height="2" fill="#8a8a8a"/>
<rect x="196" y="572" width="3" height="6" fill="#8a8a8a"/>
<rect x="200" y="571" width="1" height="11" fill="#8a8a8a"/>
<rect x="199" y="572" width="3" height="7" fill="#8a8a8a"/>
<rect x="203" y="573" width="3" height="6" fill="#e6e6e6"/>
<rect x="207" y="574" width="3" height="3" fill="#8a8a8a"/>
<rect x="212" y="568" width="1" height="6" fill="#e6e6e6"/>
<rect x="211" y="571" width="3" height="2" fill="#e6e6e6"/>
<rect x="215" y="569" width="3" height="3" fill="#e6e6e6"/>
<rect x="218" y="569" width="3" height="5" fill="#8a8a8a"/>
<rect x="222" y="572" width="3" height="4" fill="#8a8a8a"/>
<rect x="226" y="572" width="3" height="3" fill="#8a8a8a"/>
<rect x="231" y="572" width="1" height="6" fill="#8a8a8a"/>
<rect x="230" y="572" width="3" height="3" fill="#8a8a8a"/>
<rect x="235" y="562" width="1" height="15" fill="#e6e6e6"/>
<rect x="234" y="566" width="3" height="10" fill="#e6e6e6"/>
<rect x="238" y="554" width="1" height="17" fill="#8a8a8a"/>
<rect x="237" y="563" width="3" height="5" fill="#8a8a8a"/>
<rect x="242" y="562" width="1" height="7" fill="#e6e6e6"/>
<rect x="241" y="564" width="3" height="3" fill="#e6e6e6"/>
<rect x="246" y="562" width="1" height="10" fill="#e6e6e6"/>
<rect x="245" y="563" width="3" height="5" fill="#e6e6e6"/>
<rect x="250" y="551" width="1" height="11" fill="#e6e6e6"/>
<rect x="249" y="556" width="3" height="5" fill="#e6e6e6"/>
<rect x="254" y="552" width="1" height="7" fill="#e6e6e6"/>
<rect x="253" y="554" width="3" height="3" fill="#e6e6e6"/>
<rect x="257" y="547" width="1" height="11" fill="#e6e6e6"/>
<rect x="256" y="548" width="3" height="8" fill="#e6e6e6"/>
<rect x="261" y="549" width="1" height="8" fill="#8a8a8a"/>
<rect x="260" y="550" width="3" height="4" fill="#8a8a8a"/>
<rect x="265" y="546" width="1" height="8" fill="#e6e6e6"/>
<rect x="264" y="547" width="3" height="5" fill="#e6e6e6"/>
<rect x="268" y="548" width="3" height="3" fill="#e6e6e6"/>
<rect x="273" y="538" width="1" height="10" fill="#e6e6e6"/>
<rect x="272" y="541" width="3" height="6" fill="#e6e6e6"/>
<rect x="276" y="526" width="1" height="17" fill="#e6e6e6"/>
<rect x="275" y="531" width="3" height="11" fill="#e6e6e6"/>
<rect x="280" y="516" width="1" height="16" fill="#e6e6e6"/>
<rect x="279" y="523" width="3" height="9" fill="#e6e6e6"/>
<rect x="284" y="504" width="1" height="25" fill="#e6e6e6"/>
<rect x="283" y="508" width="3" height="21" fill="#e6e6e6"/>
<rect x="288" y="447" width="1" height="59" fill="#e6e6e6"/>
<rect x="287" y="449" width="3" height="57" fill="#e6e6e6"/>
<rect x="292" y="425" width="1" height="38" fill="#e6e6e6"/>
<rect x="291" y="436" width="3" height="11" fill="#e6e6e6"/>
<rect x="295" y="375" width="1" height="61" fill="#e6e6e6"/>
<rect x="294" y="386" width="3" height="49" fill="#e6e6e6"/>
<rect x="299" y="352" width="1" height="42" fill="#8a8a8a"/>
<rect x="298" y="375" width="3" height="19" fill="#8a8a8a"/>
<rect x="303" y="395" width="1" height="37" fill="#8a8a8a"/>
<rect x="302" y="395" width="3" height="31" fill="#8a8a8a"/>
<rect x="307" y="412" width="1" height="15" fill="#e6e6e6"/>
<rect x="306" y="412" width="3" height="12" fill="#e6e6e6"/>
<rect x="311" y="395" width="1" height="24" fill="#e6e6e6"/>
<rect x="310" y="403" width="3" height="9" fill="#e6e6e6"/>
<rect x="314" y="395" width="1" height="13" fill="#e6e6e6"/>
<rect x="313" y="399" width="3" height="1" fill="#e6e6e6"/>
<rect x="318" y="382" width="1" height="19" fill="#8a8a8a"/>
<rect x="317" y="393" width="3" height="3" fill="#8a8a8a"/>
<rect x="322" y="373" width="1" height="22" fill="#e6e6e6"/>
<rect x="321" y="373" width="3" height="19" fill="#e6e6e6"/>
<rect x="326" y="358" width="1" height="19" fill="#e6e6e6"/>
<rect x="325" y="358" width="3" height="14" fill="#e6e6e6"/>
<rect x="330" y="355" width="1" height="14" fill="#8a8a8a"/>
<rect x="329" y="358" width="3" height="5" fill="#8a8a8a"/>
<rect x="333" y="298" width="1" height="62" fill="#e6e6e6"/>
<rect x="332" y="309" width="3" height="51" fill="#e6e6e6"/>
<rect x="337" y="301" width="1" height="46" fill="#8a8a8a"/>
<rect x="336" y="301" width="3" height="18" fill="#8a8a8a"/>
<rect x="341" y="313" width="1" height="27" fill="#e6e6e6"/>
<rect x="340" y="319" width="3" height="4" fill="#e6e6e6"/>
<rect x="345" y="304" width="1" height="21" fill="#e6e6e6"/>
<rect x="344" y="311" width="3" height="1" fill="#e6e6e6"/>
<rect x="349" y="303" width="1" height="20" fill="#e6e6e6"/>
<rect x="348" y="304" width="3" height="13" fill="#e6e6e6"/>
<rect x="352" y="298" width="1" height="10" fill="#8a8a8a"/>
<rect x="351" y="300" width="3" height="5" fill="#8a8a8a"/>
<rect x="356" y="210" width="1" height="96" fill="#e6e6e6"/>
<rect x="355" y="218" width="3" height="81" fill="#e6e6e6"/>
<rect x="360" y="132" width="1" height="85" fill="#e6e6e6"/>
<rect x="359" y="179" width="3" height="31" fill="#e6e6e6"/>
<rect x="364" y="154" width="1" height="54" fill="#8a8a8a"/>
<rect x="363" y="171" width="3" height="17" fill="#8a8a8a"/>
<rect x="368" y="180" width="1" height="25" fill="#e6e6e6"/>
<rect x="367" y="192" width="3" height="1" fill="#e6e6e6"/>
<rect x="371" y="201" width="1" height="29" fill="#8a8a8a"/>
<rect x="370" y="201" width="3" height="17" fill="#8a8a8a"/>
<rect x="375" y="158" width="1" height="95" fill="#e6e6e6"/>
<rect x="374" y="162" width="3" height="65" fill="#e6e6e6"/>
<rect x="379" y="149" width="1" height="48" fill="#8a8a8a"/>
<rect x="378" y="154" width="3" height="21" fill="#8a8a8a"/>
<rect x="383" y="175" width="1" height="26" fill="#8a8a8a"/>
<rect x="382" y="175" width="3" height="13" fill="#8a8a8a"/>
<rect x="387" y="184" width="1" height="16" fill="#e6e6e6"/>
<rect x="386" y="184" width="3" height="4" fill="#e6e6e6"/>
<rect x="390" y="184" width="1" height="46" fill="#8a8a8a"/>
<rect x="389" y="184" width="3" height="38" fill="#8a8a8a"/>
<rect x="394" y="202" width="1" height="33" fill="#e6e6e6"/>
<rect x="393" y="209" width="3" height="19" fill="#e6e6e6"/>
<rect x="398" y="201" width="1" height="25" fill="#8a8a8a"/>
<rect x="397" y="205" width="3" height="17" fill="#8a8a8a"/>
<rect x="402" y="201" width="1" height="39" fill="#e6e6e6"/>
<rect x="401" y="218" width="3" height="4" fill="#e6e6e6"/>
<rect x="406" y="201" width="1" height="32" fill="#e6e6e6"/>
<rect x="405" y="218" width="3" height="9" fill="#e6e6e6"/>
<rect x="410" y="210" width="1" height="34" fill="#8a8a8a"/>
<rect x="409" y="218" width="3" height="22" fill="#8a8a8a"/>
<rect x="413" y="222" width="1" height="31" fill="#8a8a8a"/>
<rect x="412" y="227" width="3" height="16" fill="#8a8a8a"/>
<rect x="417" y="222" width="1" height="22" fill="#e6e6e6"/>
<rect x="416" y="235" width="3" height="6" fill="#e6e6e6"/>
<rect x="421" y="162" width="1" height="70" fill="#e6e6e6"/>
<rect x="420" y="179" width="3" height="53" fill="#e6e6e6"/>
<rect x="425" y="149" width="1" height="48" fill="#e6e6e6"/>
<rect x="424" y="175" width="3" height="13" fill="#e6e6e6"/>
<rect x="429" y="171" width="1" height="37" fill="#8a8a8a"/>
<rect x="428" y="179" width="3" height="9" fill="#8a8a8a"/>
<rect x="432" y="184" width="1" height="13" fill="#e6e6e6"/>
<rect x="431" y="184" width="3" height="2" fill="#e6e6e6"/>
<rect x="436" y="184" width="1" height="13" fill="#e6e6e6"/>
<rect x="435" y="184" width="3" height="4" fill="#e6e6e6"/>
<rect x="440" y="167" width="1" height="20" fill="#e6e6e6"/>
<rect x="439" y="175" width="3" height="9" fill="#e6e6e6"/>
<rect x="444" y="154" width="1" height="26" fill="#e6e6e6"/>
<rect x="443" y="162" width="3" height="17" fill="#e6e6e6"/>
<rect x="448" y="106" width="1" height="53" fill="#e6e6e6"/>
<rect x="447" y="128" width="3" height="31" fill="#e6e6e6"/>
<rect x="451" y="115" width="1" height="13" fill="#8a8a8a"/>
<rect x="450" y="119" width="3" height="9" fill="#8a8a8a"/>
<rect x="455" y="119" width="1" height="30" fill="#8a8a8a"/>
<rect x="454" y="119" width="3" height="17" fill="#8a8a8a"/>
<rect x="459" y="128" width="1" height="31" fill="#8a8a8a"/>
<rect x="458" y="136" width="3" height="23" fill="#8a8a8a"/>
<rect x="463" y="167" width="1" height="46" fill="#8a8a8a"/>
<rect x="462" y="167" width="3" height="8" fill="#8a8a8a"/>
<rect x="467" y="167" width="1" height="34" fill="#e6e6e6"/>
<rect x="466" y="175" width="3" height="4" fill="#e6e6e6"/>
<rect x="470" y="132" width="1" height="69" fill="#e6e6e6"/>
<rect x="469" y="186" width="3" height="3" fill="#e6e6e6"/>
<rect x="474" y="197" width="1" height="76" fill="#8a8a8a"/>
<rect x="473" y="197" width="3" height="13" fill="#8a8a8a"/>
<rect x="477" y="184" width="3" height="26" fill="#e6e6e6"/>
<rect x="482" y="145" width="1" height="56" fill="#8a8a8a"/>
<rect x="481" y="188" width="3" height="4" fill="#8a8a8a"/>
<rect x="486" y="167" width="1" height="43" fill="#8a8a8a"/>
<rect x="485" y="171" width="3" height="13" fill="#8a8a8a"/>
<rect x="489" y="184" width="1" height="31" fill="#8a8a8a"/>
<rect x="488" y="184" width="3" height="16" fill="#8a8a8a"/>
<rect x="493" y="192" width="1" height="8" fill="#e6e6e6"/>
<rect x="492" y="192" width="3" height="5" fill="#e6e6e6"/>
<rect x="497" y="171" width="1" height="26" fill="#e6e6e6"/>
<rect x="496" y="179" width="3" height="18" fill="#e6e6e6"/>
<rect x="501" y="171" width="1" height="26" fill="#e6e6e6"/>
<rect x="500" y="171" width="3" height="9" fill="#e6e6e6"/>
<rect x="505" y="149" width="1" height="27" fill="#e6e6e6"/>
<rect x="504" y="156" width="3" height="15" fill="#e6e6e6"/>
<rect x="508" y="149" width="1" height="57" fill="#8a8a8a"/>
<rect x="507" y="156" width="3" height="28" fill="#8a8a8a"/>
<rect x="512" y="184" width="1" height="22" fill="#8a8a8a"/>
<rect x="511" y="184" width="3" height="13" fill="#8a8a8a"/>
<rect x="516" y="158" width="1" height="32" fill="#e6e6e6"/>
<rect x="515" y="182" width="3" height="3" fill="#e6e6e6"/>
<rect x="520" y="164" width="1" height="19" fill="#e6e6e6"/>
<rect x="519" y="171" width="3" height="12" fill="#e6e6e6"/>
<rect x="524" y="171" width="1" height="64" fill="#8a8a8a"/>
<rect x="523" y="171" width="3" height="57" fill="#8a8a8a"/>
<rect x="527" y="238" width="1" height="24" fill="#8a8a8a"/>
<rect x="526" y="238" width="3" height="21" fill="#8a8a8a"/>
<rect x="531" y="217" width="1" height="44" fill="#e6e6e6"/>
<rect x="530" y="247" width="3" height="13" fill="#e6e6e6"/>
<rect x="535" y="207" width="1" height="59" fill="#e6e6e6"/>
<rect x="534" y="207" width="3" height="47" fill="#e6e6e6"/>
<rect x="539" y="222" width="1" height="23" fill="#e6e6e6"/>
<rect x="538" y="222" width="3" height="1" fill="#e6e6e6"/>
<rect x="542" y="222" width="3" height="26" fill="#8a8a8a"/>
<rect x="546" y="240" width="1" height="48" fill="#8a8a8a"/>
<rect x="545" y="247" width="3" height="33" fill="#8a8a8a"/>
<rect x="549" y="244" width="3" height="36" fill="#e6e6e6"/>
<rect x="553" y="244" width="3" height="21" fill="#8a8a8a"/>
<rect x="557" y="257" width="3" height="16" fill="#8a8a8a"/>
<rect x="562" y="274" width="1" height="17" fill="#8a8a8a"/>
<rect x="561" y="274" width="3" height="16" fill="#8a8a8a"/>
<rect x="565" y="288" width="1" height="12" fill="#8a8a8a"/>
<rect x="564" y="288" width="3" height="9" fill="#8a8a8a"/>
<rect x="568" y="293" width="3" height="4" fill="#e6e6e6"/>
<rect x="573" y="290" width="1" height="7" fill="#8a8a8a"/>
<rect x="572" y="292" width="3" height="4" fill="#8a8a8a"/>
<rect x="577" y="293" width="1" height="12" fill="#8a8a8a"/>
<rect x="576" y="295" width="3" height="2" fill="#8a8a8a"/>
<rect x="581" y="289" width="1" height="18" fill="#e6e6e6"/>
<rect x="580" y="297" width="3" height="10" fill="#e6e6e6"/>
<rect x="583" y="297" width="3" height="1" fill="#8a8a8a"/>
<rect x="587" y="297" width="3" height="1" fill="#e6e6e6"/>
<rect x="591" y="297" width="3" height="1" fill="#8a8a8a"/>
<rect x="596" y="291" width="1" height="14" fill="#8a8a8a"/>
<rect x="595" y="297" width="3" height="1" fill="#8a8a8a"/>
<rect x="599" y="304" width="3" height="3" fill="#e6e6e6"/>
<rect x="603" y="304" width="1" height="20" fill="#8a8a8a"/>
<rect x="602" y="304" width="3" height="18" fill="#8a8a8a"/>
<rect x="606" y="309" width="3" height="1" fill="#e6e6e6"/>
<rect x="610" y="293" width="3" height="12" fill="#e6e6e6"/>
<rect x="615" y="270" width="1" height="23" fill="#e6e6e6"/>
<rect x="614" y="271" width="3" height="22" fill="#e6e6e6"/>
<rect x="619" y="268" width="1" height="25" fill="#8a8a8a"/>
<rect x="618" y="268" width="3" height="14" fill="#8a8a8a"/>
<rect x="622" y="277" width="1" height="18" fill="#e6e6e6"/>
<rect x="621" y="282" width="3" height="4" fill="#e6e6e6"/>
<rect x="626" y="273" width="1" height="8" fill="#e6e6e6"/>
<rect x="625" y="275" width="3" height="5" fill="#e6e6e6"/>
<rect x="630" y="283" width="1" height="17" fill="#e6e6e6"/>
<rect x="629" y="283" width="3" height="1" fill="#e6e6e6"/>
<rect x="633" y="287" width="3" height="3" fill="#e6e6e6"/>
<rect x="638" y="287" width="1" height="9" fill="#8a8a8a"/>
<rect x="637" y="287" width="3" height="3" fill="#8a8a8a"/>
<rect x="641" y="293" width="1" height="7" fill="#e6e6e6"/>
<rect x="640" y="296" width="3" height="2" fill="#e6e6e6"/>
<rect x="645" y="290" width="1" height="10" fill="#e6e6e6"/>
<rect x="644" y="291" width="3" height="6" fill="#e6e6e6"/>
<rect x="648" y="291" width="3" height="2" fill="#8a8a8a"/>
<rect x="653" y="291" width="1" height="10" fill="#e6e6e6"/>
<rect x="652" y="291" width="3" height="9" fill="#e6e6e6"/>
<rect x="657" y="290" width="1" height="19" fill="#8a8a8a"/>
<rect x="656" y="291" width="3" height="11" fill="#8a8a8a"/>
<rect x="660" y="278" width="1" height="18" fill="#e6e6e6"/>
<rect x="659" y="285" width="3" height="10" fill="#e6e6e6"/>
<rect x="664" y="283" width="1" height="27" fill="#8a8a8a"/>
<rect x="663" y="296" width="3" height="7" fill="#8a8a8a"/>
<rect x="667" y="298" width="3" height="26" fill="#8a8a8a"/>
<rect x="672" y="321" width="1" height="17" fill="#8a8a8a"/>
<rect x="671" y="321" width="3" height="8" fill="#8a8a8a"/>
<rect x="676" y="324" width="1" height="19" fill="#8a8a8a"/>
<rect x="675" y="327" width="3" height="16" fill="#8a8a8a"/>
<rect x="678" y="342" width="3" height="1" fill="#e6e6e6"/>
<rect x="683" y="331" width="1" height="15" fill="#e6e6e6"/>
<rect x="682" y="331" width="3" height="7" fill="#e6e6e6"/>
<rect x="687" y="324" width="1" height="9" fill="#e6e6e6"/>
<rect x="686" y="330" width="3" height="2" fill="#e6e6e6"/>
<rect x="691" y="326" width="1" height="13" fill="#8a8a8a"/>
<rect x="690" y="330" width="3" height="8" fill="#8a8a8a"/>
<rect x="695" y="331" width="1" height="18" fill="#8a8a8a"/>
<rect x="694" y="339" width="3" height="5" fill="#8a8a8a"/>
<rect x="697" y="343" width="3" height="23" fill="#8a8a8a"/>
<rect x="702" y="337" width="1" height="26" fill="#e6e6e6"/>
<rect x="701" y="337" width="3" height="25" fill="#e6e6e6"/>
<rect x="706" y="317" width="1" height="12" fill="#e6e6e6"/>
<rect x="705" y="321" width="3" height="8" fill="#e6e6e6"/>
<rect x="710" y="323" width="1" height="14" fill="#8a8a8a"/>
<rect x="709" y="323" width="3" height="6" fill="#8a8a8a"/>
<rect x="713" y="330" width="3" height="31" fill="#8a8a8a"/>
<rect x="716" y="347" width="3" height="19" fill="#8a8a8a"/>
<rect x="720" y="357" width="3" height="12" fill="#8a8a8a"/>
<rect x="725" y="359" width="1" height="25" fill="#e6e6e6"/>
<rect x="724" y="373" width="3" height="1" fill="#e6e6e6"/>
<rect x="729" y="367" width="1" height="21" fill="#e6e6e6"/>
<rect x="728" y="367" width="3" height="7" fill="#e6e6e6"/>
<rect x="733" y="358" width="1" height="21" fill="#8a8a8a"/>
<rect x="732" y="367" width="3" height="7" fill="#8a8a8a"/>
<rect x="736" y="374" width="1" height="16" fill="#8a8a8a"/>
<rect x="735" y="374" width="3" height="10" fill="#8a8a8a"/>
<rect x="739" y="383" width="3" height="22" fill="#8a8a8a"/>
<rect x="744" y="408" width="1" height="27" fill="#8a8a8a"/>
<rect x="743" y="408" width="3" height="7" fill="#8a8a8a"/>
<rect x="747" y="412" width="3" height="3" fill="#e6e6e6"/>
<rect x="752" y="397" width="1" height="16" fill="#8a8a8a"/>
<rect x="751" y="408" width="3" height="4" fill="#8a8a8a"/>
<rect x="756" y="416" width="1" height="13" fill="#e6e6e6"/>
<rect x="755" y="416" width="3" height="1" fill="#e6e6e6"/>
<rect x="758" y="419" width="3" height="1" fill="#e6e6e6"/>
<rect x="762" y="419" width="3" height="1" fill="#e6e6e6"/>
<rect x="767" y="410" width="1" height="12" fill="#e6e6e6"/>
<rect x="766" y="416" width="3" height="5" fill="#e6e6e6"/>
<rect x="770" y="416" width="3" height="25" fill="#8a8a8a"/>
<rect x="775" y="438" width="1" height="37" fill="#8a8a8a"/>
<rect x="774" y="443" width="3" height="19" fill="#8a8a8a"/>
<rect x="778" y="462" width="1" height="13" fill="#e6e6e6"/>
<rect x="777" y="466" width="3" height="3" fill="#e6e6e6"/>
<rect x="782" y="472" width="1" height="31" fill="#8a8a8a"/>
<rect x="781" y="472" width="3" height="21" fill="#8a8a8a"/>
<rect x="786" y="490" width="1" height="7" fill="#e6e6e6"/>
<rect x="785" y="494" width="3" height="3" fill="#e6e6e6"/>
<rect x="790" y="488" width="1" height="9" fill="#8a8a8a"/>
<rect x="789" y="494" width="3" height="3" fill="#8a8a8a"/>
<rect x="793" y="498" width="3" height="12" fill="#8a8a8a"/>
<rect x="797" y="509" width="1" height="25" fill="#8a8a8a"/>
<rect x="796" y="509" width="3" height="20" fill="#8a8a8a"/>
<rect x="800" y="529" width="3" height="23" fill="#8a8a8a"/>
<rect x="804" y="552" width="3" height="15" fill="#8a8a8a"/>
<rect x="808" y="566" width="3" height="11" fill="#8a8a8a"/>
<rect x="813" y="573" width="1" height="20" fill="#8a8a8a"/>
<rect x="812" y="573" width="3" height="17" fill="#8a8a8a"/>
<rect x="816" y="583" width="1" height="19" fill="#8a8a8a"/>
<rect x="815" y="589" width="3" height="4" fill="#8a8a8a"/>
<rect x="820" y="589" width="1" height="16" fill="#8a8a8a"/>
<rect x="819" y="592" width="3" height="6" fill="#8a8a8a"/>
<rect x="824" y="586" width="1" height="12" fill="#e6e6e6"/>
<rect x="823" y="594" width="3" height="1" fill="#e6e6e6"/>
<rect x="828" y="593" width="1" height="5" fill="#e6e6e6"/>
<rect x="827" y="594" width="3" height="1" fill="#e6e6e6"/>
<rect x="831" y="559" width="3" height="37" fill="#e6e6e6"/>
<rect x="835" y="517" width="1" height="32" fill="#e6e6e6"/>
<rect x="834" y="534" width="3" height="15" fill="#e6e6e6"/>
<rect x="839" y="515" width="1" height="23" fill="#e6e6e6"/>
<rect x="838" y="532" width="3" height="2" fill="#e6e6e6"/>
<rect x="843" y="535" width="1" height="26" fill="#8a8a8a"/>
<rect x="842" y="535" width="3" height="21" fill="#8a8a8a"/>
<rect x="847" y="544" width="1" height="15" fill="#e6e6e6"/>
<rect x="846" y="547" width="3" height="12" fill="#e6e6e6"/>
<rect x="850" y="547" width="3" height="6" fill="#8a8a8a"/>
<rect x="854" y="551" width="1" height="15" fill="#8a8a8a"/>
<rect x="853" y="551" width="3" height="5" fill="#8a8a8a"/>
<rect x="858" y="541" width="1" height="16" fill="#e6e6e6"/>
<rect x="857" y="548" width="3" height="8" fill="#e6e6e6"/>
<rect x="862" y="551" width="1" height="5" fill="#e6e6e6"/>
<rect x="861" y="552" width="3" height="2" fill="#e6e6e6"/>
<rect x="865" y="557" width="3" height="26" fill="#8a8a8a"/>
<rect x="870" y="548" width="1" height="39" fill="#e6e6e6"/>
<rect x="869" y="548" width="3" height="38" fill="#e6e6e6"/>
<rect x="873" y="548" width="1" height="36" fill="#8a8a8a"/>
<rect x="872" y="548" width="3" height="33" fill="#8a8a8a"/>
<rect x="877" y="569" width="1" height="12" fill="#e6e6e6"/>
<rect x="876" y="576" width="3" height="3" fill="#e6e6e6"/>
<rect x="880" y="579" width="3" height="15" fill="#8a8a8a"/>
<rect x="884" y="594" width="3" height="23" fill="#8a8a8a"/>
<rect x="889" y="612" width="1" height="7" fill="#e6e6e6"/>
<rect x="888" y="613" width="3" height="2" fill="#e6e6e6"/>
<rect x="891" y="616" width="3" height="11" fill="#8a8a8a"/>
<rect x="896" y="627" width="1" height="10" fill="#8a8a8a"/>
<rect x="895" y="627" width="3" height="3" fill="#8a8a8a"/>
<rect x="900" y="620" width="1" height="8" fill="#e6e6e6"/>
<rect x="899" y="620" width="3" height="7" fill="#e6e6e6"/>
<rect x="904" y="609" width="1" height="11" fill="#e6e6e6"/>
<rect x="903" y="613" width="3" height="6" fill="#e6e6e6"/>
<rect x="908" y="616" width="1" height="12" fill="#8a8a8a"/>
<rect x="907" y="616" width="3" height="8" fill="#8a8a8a"/>
<rect x="910" y="620" width="3" height="3" fill="#8a8a8a"/>
<rect x="914" y="624" width="3" height="5" fill="#8a8a8a"/>
<rect x="919" y="618" width="1" height="10" fill="#e6e6e6"/>
<rect x="918" y="626" width="3" height="2" fill="#e6e6e6"/>
<rect x="923" y="619" width="1" height="9" fill="#e6e6e6"/>
<rect x="922" y="626" width="3" height="2" fill="#e6e6e6"/>
<rect x="927" y="622" width="1" height="6" fill="#e6e6e6"/>
<rect x="926" y="625" width="3" height="3" fill="#e6e6e6"/>
<rect x="929" y="627" width="3" height="2" fill="#e6e6e6"/>
<rect x="933" y="630" width="3" height="2" fill="#8a8a8a"/>
<rect x="937" y="632" width="3" height="2" fill="#e6e6e6"/>
<rect x="941" y="630" width="3" height="3" fill="#e6e6e6"/>
<rect x="946" y="628" width="1" height="5" fill="#e6e6e6"/>
<rect x="945" y="629" width="3" height="3" fill="#e6e6e6"/>
<rect x="948" y="634" width="3" height="2" fill="#8a8a8a"/>
<rect x="953" y="635" width="1" height="8" fill="#8a8a8a"/>
<rect x="952" y="635" width="3" height="6" fill="#8a8a8a"/>
<rect x="956" y="639" width="3" height="3" fill="#8a8a8a"/>
<rect x="960" y="635" width="3" height="3" fill="#e6e6e6"/>
<rect x="965" y="633" width="1" height="7" fill="#8a8a8a"/>
<rect x="964" y="634" width="3" height="5" fill="#8a8a8a"/>
<rect x="967" y="639" width="3" height="1" fill="#e6e6e6"/>
<rect x="971" y="638" width="3" height="1" fill="#e6e6e6"/>
<rect x="975" y="640" width="3" height="2" fill="#8a8a8a"/>
<rect x="980" y="635" width="1" height="14" fill="#8a8a8a"/>
<rect x="979" y="640" width="3" height="4" fill="#8a8a8a"/>
<rect x="983" y="642" width="3" height="8" fill="#8a8a8a"/>
<rect x="986" y="644" width="3" height="1" fill="#e6e6e6"/>
<rect x="990" y="644" width="3" height="1" fill="#e6e6e6"/>
<rect x="995" y="643" width="1" height="4" fill="#e6e6e6"/>
<rect x="994" y="643" width="3" height="2" fill="#e6e6e6"/>
<rect x="999" y="642" width="1" height="8" fill="#8a8a8a"/>
<rect x="998" y="645" width="3" height="3" fill="#8a8a8a"/>
<rect x="1002" y="646" width="3" height="8" fill="#8a8a8a"/>
<rect x="1005" y="650" width="3" height="10" fill="#8a8a8a"/>
<rect x="1009" y="653" width="3" height="9" fill="#8a8a8a"/>
<rect x="1014" y="660" width="1" height="5" fill="#e6e6e6"/>
<rect x="1013" y="661" width="3" height="1" fill="#e6e6e6"/>
<rect x="1017" y="649" width="3" height="13" fill="#e6e6e6"/>
<rect x="1022" y="648" width="1" height="12" fill="#8a8a8a"/>
<rect x="1021" y="650" width="3" height="3" fill="#8a8a8a"/>
<rect x="1024" y="651" width="3" height="5" fill="#8a8a8a"/>
<rect x="1028" y="647" width="3" height="11" fill="#e6e6e6"/>
<rect x="1033" y="641" width="1" height="9" fill="#8a8a8a"/>
<rect x="1032" y="644" width="3" height="1" fill="#8a8a8a"/>
<rect x="1037" y="636" width="1" height="12" fill="#e6e6e6"/>
<rect x="1036" y="642" width="3" height="6" fill="#e6e6e6"/>
<rect x="1041" y="623" width="1" height="20" fill="#e6e6e6"/>
<rect x="1040" y="629" width="3" height="14" fill="#e6e6e6"/>
<rect x="1043" y="628" width="3" height="12" fill="#8a8a8a"/>
<rect x="1048" y="638" width="1" height="5" fill="#8a8a8a"/>
<rect x="1047" y="639" width="3" height="3" fill="#8a8a8a"/>
<rect x="1051" y="643" width="3" height="4" fill="#8a8a8a"/>
<rect x="1055" y="646" width="3" height="4" fill="#8a8a8a"/>
<rect x="1060" y="647" width="1" height="7" fill="#e6e6e6"/>
<rect x="1059" y="647" width="3" height="4" fill="#e6e6e6"/>
<rect x="1062" y="646" width="3" height="2" fill="#e6e6e6"/>
<rect x="1066" y="650" width="3" height="2" fill="#8a8a8a"/>
<rect x="1070" y="647" width="3" height="6" fill="#e6e6e6"/>
<rect x="1074" y="647" width="3" height="13" fill="#8a8a8a"/>
<rect x="1079" y="655" width="1" height="9" fill="#8a8a8a"/>
<rect x="1078" y="660" width="3" height="4" fill="#8a8a8a"/>
<rect x="1082" y="658" width="1" height="10" fill="#e6e6e6"/>
<rect x="1081" y="660" width="3" height="6" fill="#e6e6e6"/>
<rect x="1086" y="655" width="1" height="10" fill="#e6e6e6"/>
<rect x="1085" y="658" width="3" height="7" fill="#e6e6e6"/>
<rect x="1089" y="657" width="3" height="3" fill="#e6e6e6"/>
<rect x="1093" y="653" width="3" height="5" fill="#e6e6e6"/>
<rect x="1097" y="649" width="3" height="4" fill="#e6e6e6"/>
<rect x="1102" y="623" width="1" height="28" fill="#e6e6e6"/>
<rect x="1101" y="637" width="3" height="14" fill="#e6e6e6"/>
<rect x="1105" y="628" width="1" height="8" fill="#8a8a8a"/>
<rect x="1104" y="631" width="3" height="2" fill="#8a8a8a"/>
<rect x="1108" y="634" width="3" height="11" fill="#8a8a8a"/>
<rect x="1113" y="632" width="1" height="14" fill="#e6e6e6"/>
<rect x="1112" y="635" width="3" height="11" fill="#e6e6e6"/>
<rect x="1117" y="638" width="1" height="6" fill="#8a8a8a"/>
<rect x="1116" y="638" width="3" height="2" fill="#8a8a8a"/>
<rect x="1120" y="638" width="3" height="3" fill="#e6e6e6"/>
<rect x="1123" y="638" width="3" height="4" fill="#e6e6e6"/>
<rect x="1127" y="641" width="3" height="4" fill="#8a8a8a"/>
<rect x="1132" y="644" width="1" height="5" fill="#e6e6e6"/>
<rect x="1131" y="644" width="3" height="2" fill="#e6e6e6"/>
<rect x="1135" y="642" width="3" height="5" fill="#8a8a8a"/>
<rect x="1140" y="636" width="1" height="12" fill="#e6e6e6"/>
<rect x="1139" y="638" width="3" height="10" fill="#e6e6e6"/>
<rect x="1142" y="639" width="3" height="2" fill="#e6e6e6"/>
<rect x="1146" y="627" width="3" height="12" fill="#e6e6e6"/>
<rect x="1151" y="603" width="1" height="28" fill="#e6e6e6"/>
<rect x="1150" y="607" width="3" height="24" fill="#e6e6e6"/>
<rect x="1155" y="601" width="1" height="11" fill="#e6e6e6"/>
<rect x="1154" y="605" width="3" height="4" fill="#e6e6e6"/>
<rect x="1159" y="602" width="1" height="11" fill="#8a8a8a"/>
<rect x="1158" y="603" width="3" height="5" fill="#8a8a8a"/>
<rect x="1161" y="607" width="3" height="14" fill="#8a8a8a"/>
<rect x="1166" y="606" width="1" height="18" fill="#e6e6e6"/>
<rect x="1165" y="616" width="3" height="6" fill="#e6e6e6"/>
<rect x="1169" y="611" width="3" height="5" fill="#e6e6e6"/>
<rect x="1174" y="589" width="1" height="26" fill="#e6e6e6"/>
<rect x="1173" y="589" width="3" height="25" fill="#e6e6e6"/>
<rect x="1178" y="589" width="1" height="7" fill="#8a8a8a"/>
<rect x="1177" y="589" width="3" height="5" fill="#8a8a8a"/>
</g>
<path d="M833.7,640.5 L954.7,689.5 L958.7,677.7 L985.5,722.2 L933.2,725.5 L940.4,715.7 Z" fill="#ff9a0a" stroke="#ff9a0a" stroke-width="2" stroke-linejoin="round"/>
<text x="603.5" y="342" font-size="13" fill="#e0334b" text-anchor="middle" textLength="53" lengthAdjust="spacingAndGlyphs" >BOTTOM</text>
<text x="820.4" y="623.8" font-size="13" fill="#e0334b" text-anchor="middle" textLength="53" lengthAdjust="spacingAndGlyphs" >BOTTOM</text>
<text x="896" y="656" font-size="13" fill="#e0334b" text-anchor="middle" textLength="53" lengthAdjust="spacingAndGlyphs" >BOTTOM</text>
<text x="946" y="653.6" font-size="13" fill="#e0334b" text-anchor="middle" textLength="83" lengthAdjust="spacingAndGlyphs" >END-BOTTOM</text>
<text x="950" y="658.1" font-size="13" fill="#e0334b" text-anchor="middle" textLength="83" lengthAdjust="spacingAndGlyphs" >END-BOTTOM</text>
<text x="954" y="662.6" font-size="13" fill="#e0334b" text-anchor="middle" textLength="83" lengthAdjust="spacingAndGlyphs" >END-BOTTOM</text>
<text x="966" y="664.1" font-size="13" fill="#e0334b" text-anchor="middle" textLength="83" lengthAdjust="spacingAndGlyphs" >END-BOTTOM</text>
<text x="982" y="666.1" font-size="13" fill="#e0334b" text-anchor="middle" textLength="83" lengthAdjust="spacingAndGlyphs" >END-BOTTOM</text>
<text x="998" y="671.6" font-size="13" fill="#e0334b" text-anchor="middle" textLength="83" lengthAdjust="spacingAndGlyphs" >END-BOTTOM</text>
<text x="1002" y="676.1" font-size="13" fill="#e0334b" text-anchor="middle" textLength="83" lengthAdjust="spacingAndGlyphs" >END-BOTTOM</text>
<text x="1006" y="681.6" font-size="13" fill="#e0334b" text-anchor="middle" textLength="83" lengthAdjust="spacingAndGlyphs" >END-BOTTOM</text>
<text x="1082.1" y="686.7" font-size="13" fill="#e0334b" text-anchor="middle" textLength="53" lengthAdjust="spacingAndGlyphs" >BOTTOM</text>
<rect x="53.1" y="808.9" width="21" height="21" rx="2.6" ry="2.6" fill="#141414" stroke="#d0d0d0" stroke-width="1.8"/>
<text x="63.6" y="824.3" font-size="13.5" fill="#d4d4d4" font-weight="bold" text-anchor="middle" textLength="7.2" lengthAdjust="spacingAndGlyphs" >E</text>
<rect x="175.2" y="808.9" width="21" height="21" rx="2.6" ry="2.6" fill="#141414" stroke="#d0d0d0" stroke-width="1.8"/>
<text x="185.7" y="824.3" font-size="13.5" fill="#d4d4d4" font-weight="bold" text-anchor="middle" textLength="7.2" lengthAdjust="spacingAndGlyphs" >E</text>
<rect x="403.1" y="808.9" width="21" height="21" rx="2.6" ry="2.6" fill="#141414" stroke="#d0d0d0" stroke-width="1.8"/>
<text x="413.6" y="824.3" font-size="13.5" fill="#d4d4d4" font-weight="bold" text-anchor="middle" textLength="7.2" lengthAdjust="spacingAndGlyphs" >E</text>
<rect x="535.8" y="808.9" width="21" height="21" rx="2.6" ry="2.6" fill="#141414" stroke="#d0d0d0" stroke-width="1.8"/>
<text x="546.3" y="824.3" font-size="13.5" fill="#d4d4d4" font-weight="bold" text-anchor="middle" textLength="7.2" lengthAdjust="spacingAndGlyphs" >E</text>
<rect x="573.8" y="808.9" width="21" height="21" rx="2.6" ry="2.6" fill="#141414" stroke="#d0d0d0" stroke-width="1.8"/>
<text x="584.3" y="824.3" font-size="13.5" fill="#d4d4d4" font-weight="bold" text-anchor="middle" textLength="7.2" lengthAdjust="spacingAndGlyphs" >E</text>
<rect x="771.8" y="808.9" width="21" height="21" rx="2.6" ry="2.6" fill="#141414" stroke="#d0d0d0" stroke-width="1.8"/>
<text x="782.3" y="824.3" font-size="13.5" fill="#d4d4d4" font-weight="bold" text-anchor="middle" textLength="7.2" lengthAdjust="spacingAndGlyphs" >E</text>
<rect x="870.7" y="808.9" width="21" height="21" rx="2.6" ry="2.6" fill="#141414" stroke="#d0d0d0" stroke-width="1.8"/>
<text x="881.2" y="824.3" font-size="13.5" fill="#d4d4d4" font-weight="bold" text-anchor="middle" textLength="7.2" lengthAdjust="spacingAndGlyphs" >E</text>
<rect x="973.7" y="808.9" width="21" height="21" rx="2.6" ry="2.6" fill="#141414" stroke="#d0d0d0" stroke-width="1.8"/>
<text x="984.2" y="824.3" font-size="13.5" fill="#d4d4d4" font-weight="bold" text-anchor="middle" textLength="7.2" lengthAdjust="spacingAndGlyphs" >E</text>
<rect x="1092.1" y="808.9" width="21" height="21" rx="2.6" ry="2.6" fill="#141414" stroke="#d0d0d0" stroke-width="1.8"/>
<text x="1102.6" y="824.3" font-size="13.5" fill="#d4d4d4" font-weight="bold" text-anchor="middle" textLength="7.2" lengthAdjust="spacingAndGlyphs" >E</text>
<circle cx="919.4" cy="819.8" r="12.6" fill="#15110c" fill-opacity="0.62" stroke="#ff9800" stroke-width="2"/>
<text x="919.4" y="824.4" font-size="13" fill="#ff9800" font-weight="bold" text-anchor="middle" >S</text>
<g shape-rendering="crispEdges">
<rect x="31" y="920.5" width="199" height="1" fill="#ff5252"/>
<rect x="229.4" y="887" width="3.6" height="35" fill="#787b86"/>
<rect x="233" y="853.2" width="239.1" height="68.8" fill="#4caf50"/>
<rect x="472.1" y="887" width="23.1" height="35" fill="#787b86"/>
<rect x="495.2" y="921.3" width="7.7" height="34.7" fill="#787b86"/>
<rect x="502.9" y="887" width="23" height="35" fill="#787b86"/>
<rect x="525.4" y="921.3" width="18.6" height="34.7" fill="#787b86"/>
<rect x="544" y="921.3" width="494.9" height="68.7" fill="#ff5252"/>
<rect x="1038.9" y="853.2" width="27.3" height="68.8" fill="#4caf50"/>
<rect x="1065.1" y="921.3" width="15.9" height="34.7" fill="#787b86"/>
<rect x="1081" y="921.3" width="22.9" height="68.7" fill="#ff5252"/>
<rect x="1102.8" y="887" width="46.4" height="35" fill="#787b86"/>
<rect x="1149.2" y="853.2" width="30.8" height="68.8" fill="#4caf50"/>
</g>
<path d="M944.1,1084.9 L1067.4,1052.6 L1063.7,1040.7 L1111,1060.3 L1072.2,1093.3 L1071,1082 Z" fill="#ff9a0a" stroke="#ff9a0a" stroke-width="1.6" stroke-linejoin="round"/>
<rect x="944" y="1062" width="168" height="2" fill="#3a3a3c"/>
<path d="M35.1,1063.3C35.9,1063.3 38.4,1063.3 40,1063.3C41.7,1063.3 43.3,1063.3 45,1063.3C46.6,1063.3 48.2,1063.3 49.9,1063.3C51.5,1063.3 53.2,1063.3 54.8,1063.3C56.5,1063.3 58.1,1063.3 59.7,1063.3C61.4,1063.3 63,1063.3 64.7,1063.3C66.3,1063.3 67.9,1063.3 69.6,1063.3C71.2,1063.3 72.9,1063.3 74.5,1063.3C76.2,1063.3 77.8,1063.3 79.4,1063.3C81.1,1063.3 82.7,1063.3 84.4,1063.3C86,1063.3 87.7,1063.3 89.3,1063.3C90.9,1063.3 92.6,1063.3 94.2,1063.3C95.9,1063.3 97.5,1063.3 99.1,1063.3C100.8,1063.3 102.4,1063.3 104.1,1063.3C105.7,1063.3 107.4,1063.3 109,1063.3C110.6,1063.3 112.3,1063.3 113.9,1063.3C115.6,1063.3 117.2,1063.3 118.9,1063.3C120.5,1063.3 122.1,1063.3 123.8,1063.3C125.4,1063.3 127.8,1064.1 128.7,1063.3C129.6,1062.5 129.2,1060.1 129.4,1058.5C129.6,1056.9 129.8,1055.3 130,1053.7C130.3,1052.1 130.5,1050.5 130.7,1048.9C130.9,1047.3 131.2,1045.7 131.4,1044.1C131.6,1042.5 131.8,1040.9 132,1039.3C132.3,1037.7 132.5,1036.1 132.7,1034.5C132.9,1032.9 133.2,1031.2 133.4,1029.6C133.6,1028 133.8,1026.4 134.1,1024.8C134.3,1023.2 134.5,1021.6 134.7,1020C134.9,1018.4 134.9,1016 135.4,1015.2C135.9,1014.5 137.1,1015.4 137.9,1015.5C138.7,1015.6 139.4,1015.5 140.4,1015.9C141.4,1016.3 142.6,1017.2 143.8,1017.9C144.9,1018.5 146,1019.6 147.1,1019.9C148.2,1020.2 149.3,1019.7 150.4,1019.5C151.6,1019.4 152.8,1019.2 153.8,1019.2C154.8,1019.2 155.5,1019.5 156.3,1019.7C157.1,1019.9 158,1019.9 158.8,1020.2C159.6,1020.6 160.5,1021.3 161.3,1021.9C162.1,1022.4 162.8,1023.3 163.8,1023.6C164.8,1023.8 166,1023.6 167.2,1023.6C168.3,1023.6 169.7,1023.2 170.5,1023.6C171.3,1023.9 171.6,1024.9 172.2,1025.6C172.7,1026.2 173.2,1026.5 173.8,1027.6C174.5,1028.6 175.3,1030.5 176.1,1032C176.8,1033.5 177.6,1035 178.3,1036.5C179,1038 179.8,1039.7 180.5,1040.9C181.2,1042.2 181.8,1042.8 182.4,1043.7C183,1044.7 183.7,1045.6 184.3,1046.5C184.9,1047.4 185.4,1049.4 186.2,1049.3C187,1049.2 188.2,1047.1 189.2,1046C190.2,1044.8 191.1,1042.8 192.2,1042.6C193.3,1042.4 194.7,1044.1 195.9,1044.8C197.1,1045.5 198.2,1046.9 199.6,1047C201,1047 202.7,1045.8 204.3,1045.3C205.8,1044.7 207.6,1044.2 208.9,1043.6C210.3,1043 211.2,1042.5 212.3,1041.6C213.4,1040.7 214.5,1039.4 215.6,1038.3C216.7,1037.2 217.7,1035.7 219,1034.9C220.2,1034.2 221.8,1034.1 223.1,1033.8C224.5,1033.4 226.1,1032.2 227.3,1032.6C228.6,1032.9 229.6,1034.8 230.7,1035.9C231.8,1037 232.9,1039.1 234,1039.3C235.1,1039.4 236.2,1037.6 237.4,1036.8C238.5,1035.9 239.6,1035.1 240.7,1034.3C241.8,1033.5 242.9,1032.8 244,1032C245.2,1031.2 246.3,1030.5 247.4,1029.7C248.5,1029 249.6,1028.2 250.7,1027.5C251.8,1026.7 253,1025.8 254.1,1025.2C255.2,1024.6 256.3,1024.3 257.4,1023.9C258.5,1023.4 259.5,1022.9 260.8,1022.6C262.1,1022.2 263.7,1022 265.2,1021.8C266.7,1021.5 268.2,1021.3 269.7,1021C271.2,1020.7 272.7,1020.5 274.1,1020.2C275.6,1019.9 276.9,1019.7 278.3,1019.4C279.7,1019.1 281.1,1018.8 282.5,1018.5C283.9,1018.3 285.3,1018 286.7,1017.7C288.1,1017.4 289.6,1017.1 290.8,1016.9C292.1,1016.7 293.1,1016.7 294.2,1016.5C295.3,1016.4 296.4,1016.3 297.5,1016.2C298.6,1016.1 299.5,1015.9 300.9,1015.9C302.2,1015.8 304,1015.9 305.6,1015.9C307.1,1015.9 308.7,1015.9 310.2,1015.9C311.8,1015.9 313.4,1015.9 314.9,1015.9C316.5,1015.9 318,1015.9 319.6,1015.9C321.2,1015.9 322.7,1015.9 324.3,1015.9C325.8,1015.9 327.4,1015.9 329,1015.9C330.5,1015.9 332.1,1015.9 333.6,1015.9C335.2,1015.9 336.8,1015.9 338.3,1015.9C339.9,1015.9 341.4,1015.9 343,1015.9C344.6,1015.9 346.2,1015.7 347.7,1015.9C349.2,1016 350.5,1016.4 351.9,1016.7C353.2,1017 354.7,1017.4 356,1017.5C357.4,1017.6 358.6,1017.4 359.9,1017.3C361.2,1017.2 362.5,1017.2 363.8,1017.1C365.1,1017 366.5,1016.6 367.7,1016.9C368.9,1017.1 370,1018 371.1,1018.5C372.2,1019.1 373.4,1019.9 374.4,1020.2C375.4,1020.6 376.1,1020.4 376.9,1020.6C377.8,1020.7 378.6,1020.4 379.4,1020.9C380.3,1021.4 381.1,1022.6 381.9,1023.4C382.8,1024.2 383.8,1024.9 384.4,1025.9C385.1,1026.9 385.6,1028.1 386.1,1029.2C386.7,1030.4 387.2,1031.5 387.8,1032.6C388.3,1033.7 388.9,1034.6 389.5,1035.9C390,1037.2 390.6,1038.9 391.1,1040.4C391.7,1041.9 392.2,1043.4 392.8,1044.8C393.4,1046.3 393.9,1048 394.5,1049.3C395,1050.6 395.6,1051.5 396.1,1052.6C396.7,1053.8 397.3,1054.9 397.8,1056C398.4,1057.1 398.8,1058.2 399.5,1059.3C400.2,1060.4 401.2,1061.6 402,1062.7C402.8,1063.8 404.1,1065.5 404.5,1066" fill="none" stroke="#2962ff" stroke-width="4" stroke-linecap="round" stroke-linejoin="round"/>
<path d="M403.4,1065.5C403.8,1066 404.9,1067.4 405.6,1068.3C406.4,1069.2 407.1,1070.2 407.9,1071.1C408.6,1072 409.2,1072.9 410.1,1073.9C411,1074.9 412.3,1076.1 413.4,1077.2C414.5,1078.3 415.7,1080.1 416.8,1080.6C417.9,1081 419,1080.2 420.1,1080C421.2,1079.8 422.3,1079.6 423.5,1079.5C424.6,1079.3 425.5,1078.8 426.8,1078.9C428.1,1078.9 429.6,1079.5 431,1079.7C432.4,1080 433.8,1080.3 435.2,1080.6C436.6,1080.8 437.9,1080.9 439.3,1081.1C440.7,1081.2 442.4,1081.9 443.5,1081.6C444.7,1081.2 445.4,1079.9 446.3,1079C447.2,1078.2 448.2,1077.3 449.1,1076.4C450,1075.6 450.9,1074.3 451.9,1073.9C452.9,1073.5 454.1,1074.1 455.2,1074.2C456.3,1074.3 457.5,1074.1 458.6,1074.5C459.6,1075 460.4,1076.3 461.3,1077.1C462.3,1078 463.2,1078.8 464.1,1079.7C465.1,1080.5 466,1081.4 466.9,1082.2C467.8,1083 468.8,1083.7 469.7,1084.5C470.6,1085.2 471.6,1086 472.5,1086.7C473.4,1087.4 474.2,1088.3 475.3,1088.9C476.4,1089.5 477.9,1089.9 479.2,1090.4C480.5,1090.9 481.8,1091.3 483.1,1091.8C484.4,1092.3 485.7,1092.9 487,1093.3C488.3,1093.6 489.6,1093.8 490.9,1094.1C492.2,1094.3 493.5,1094.6 494.8,1094.8C496.1,1095.1 497.3,1095.8 498.7,1095.6C500,1095.5 501.5,1094.5 502.9,1093.9C504.2,1093.4 505.8,1092.4 507,1092.3C508.3,1092.1 509.3,1092.8 510.4,1093.1C511.5,1093.4 512.6,1093.7 513.7,1093.9C514.8,1094.1 515.9,1094.2 517.1,1094.3C518.2,1094.4 519.3,1094.5 520.4,1094.6C521.5,1094.7 522.5,1094.5 523.8,1094.9C525,1095.4 526.5,1096.5 527.9,1097.3C529.3,1098.1 530.7,1099.2 532.1,1099.6C533.5,1100 534.9,1099.6 536.3,1099.6C537.7,1099.6 539.2,1099.5 540.5,1099.6C541.7,1099.7 542.7,1100.1 543.8,1100.3C544.9,1100.5 546,1100.7 547.2,1101C548.3,1101.2 549.4,1101.4 550.5,1101.6C551.6,1101.8 552.7,1101.9 553.8,1102.1C555,1102.2 556.1,1102.4 557.2,1102.5C558.3,1102.7 559.4,1102.8 560.5,1103C561.6,1103.1 562.8,1103.3 563.9,1103.5C565,1103.7 566.1,1103.9 567.2,1104.1C568.3,1104.3 569.4,1104.5 570.6,1104.6C571.7,1104.8 572.8,1104.8 573.9,1104.9C575,1104.9 576.1,1105 577.2,1105.1C578.4,1105.2 579.3,1105.4 580.6,1105.3C581.8,1105.2 583.4,1104.9 584.8,1104.6C586.2,1104.4 587.7,1104.4 588.9,1104C590.2,1103.5 591.2,1102.7 592.3,1102.1C593.4,1101.4 594.5,1100.8 595.6,1100.2C596.7,1099.5 597.7,1098.8 599,1098.3C600.2,1097.8 601.8,1097.6 603.1,1097.3C604.5,1096.9 606.4,1096.9 607.3,1096.3C608.3,1095.6 608.4,1094.3 609,1093.3C609.6,1092.3 610.1,1091.3 610.7,1090.3C611.2,1089.3 611.9,1088.4 612.3,1087.3C612.8,1086.1 613.2,1084.7 613.6,1083.5C614,1082.2 614.4,1081 614.8,1079.7C615.3,1078.5 615.7,1077.2 616.1,1076C616.5,1074.7 616.7,1073.4 617.4,1072.2C618,1071 619,1070 619.9,1068.9C620.7,1067.8 621.4,1066.6 622.4,1065.5C623.3,1064.4 625.2,1062.7 625.7,1062.2" fill="none" stroke="#ff5252" stroke-width="4" stroke-linecap="round" stroke-linejoin="round"/>
<path d="M625.7,1062.2C626.1,1061.8 627.4,1060.5 628.2,1059.7C629.1,1058.8 629.6,1057.8 630.7,1057.2C631.8,1056.5 633.5,1056.3 634.9,1055.8C636.3,1055.4 637.7,1054.8 639.1,1054.5C640.5,1054.2 641.9,1054 643.3,1053.8C644.7,1053.6 646.2,1053.3 647.4,1053.2C648.7,1053 649.7,1052.8 650.8,1052.7C651.9,1052.5 653,1052.3 654.1,1052.2C655.2,1052 656.4,1051.9 657.5,1051.8C658.6,1051.7 659.7,1051.6 660.8,1051.5C661.9,1051.4 663.2,1050.7 664.2,1051.1C665.1,1051.6 665.8,1053.2 666.7,1054.2C667.5,1055.2 668.3,1056 669.2,1057.2C670,1058.4 670.8,1060 671.7,1061.3C672.5,1062.7 673.8,1064.8 674.2,1065.5" fill="none" stroke="#2962ff" stroke-width="4" stroke-linecap="round" stroke-linejoin="round"/>
<path d="M674.2,1065.5C674.6,1066.1 675.9,1067.8 676.7,1068.9C677.5,1070 678.2,1071.5 679.2,1072.2C680.2,1073 681.4,1073 682.5,1073.4C683.7,1073.8 684.8,1074.3 685.9,1074.5C687,1074.8 688.1,1074.9 689.2,1075.1C690.3,1075.2 691.6,1075.2 692.6,1075.6C693.5,1075.9 694.2,1076.7 695.1,1077.2C695.9,1077.8 696.8,1078.6 697.6,1078.9C698.4,1079.2 699.3,1078.9 700.1,1078.9C700.9,1078.9 701.8,1079.5 702.6,1078.9C703.4,1078.3 704.1,1076.4 704.8,1075.2C705.6,1074 706.3,1072.8 707.1,1071.5C707.8,1070.3 708.5,1068.5 709.3,1067.9C710.1,1067.3 711,1067.9 711.8,1067.9C712.6,1067.9 713.3,1067.5 714.3,1067.9C715.3,1068.2 716.5,1069.3 717.6,1070.1C718.8,1070.8 719.9,1071.6 721,1072.3C722.1,1073.1 723.1,1073.9 724.3,1074.5C725.5,1075.2 726.9,1075.5 728.2,1076C729.5,1076.5 730.8,1077 732.1,1077.4C733.4,1077.9 734.7,1078.2 736,1078.9C737.3,1079.6 738.6,1080.9 739.9,1081.9C741.2,1082.9 742.5,1083.9 743.8,1084.9C745.1,1085.9 746.4,1087.3 747.7,1087.9C749,1088.6 750.3,1088.5 751.6,1088.8C752.9,1089.1 754.2,1089.4 755.5,1089.7C756.8,1090 758.2,1090.5 759.4,1090.6C760.6,1090.7 761.7,1090.2 762.8,1090C763.9,1089.9 765,1089.7 766.1,1089.5C767.2,1089.3 768.3,1088.7 769.5,1088.9C770.6,1089.2 771.7,1090.4 772.8,1091.1C773.9,1091.8 775,1092.6 776.1,1093.3C777.3,1093.9 778.4,1094.4 779.5,1094.9C780.6,1095.5 781.7,1096.1 782.8,1096.6C783.9,1097.2 785,1097.8 786.2,1098.3C787.4,1098.7 788.8,1099 790.1,1099.4C791.4,1099.8 792.7,1100.1 794,1100.5C795.3,1100.9 797.2,1101.4 797.9,1101.6" fill="none" stroke="#ff5252" stroke-width="4" stroke-linecap="round" stroke-linejoin="round"/>
<path d="M800,1101.6C800.7,1101.9 803,1102.5 804.5,1103C805.9,1103.4 807.4,1103.9 808.9,1104.3C810.4,1104.7 812,1105.4 813.4,1105.6C814.8,1105.9 816,1105.9 817.3,1106C818.6,1106.1 819.9,1106.2 821.2,1106.3C822.5,1106.4 824,1107.1 825.1,1106.6C826.1,1106.2 826.7,1104.6 827.6,1103.6C828.4,1102.6 829.5,1101.9 830.1,1100.6C830.7,1099.4 830.8,1097.7 831.2,1096.2C831.6,1094.7 831.9,1093.2 832.3,1091.7C832.7,1090.2 833.1,1088.7 833.4,1087.3C833.8,1085.8 834.2,1084.3 834.5,1082.8C834.9,1081.3 835.3,1079.8 835.7,1078.3C836,1076.9 836.4,1075.1 836.8,1073.9C837.2,1072.6 837.7,1071.8 838.1,1070.8C838.6,1069.7 839,1068.7 839.4,1067.6C839.9,1066.6 840.6,1065 840.8,1064.5" fill="none" stroke="#ff5252" stroke-width="4" stroke-linecap="round" stroke-linejoin="round"/>
<path d="M840.8,1064.5C841.1,1064 842.1,1062.5 842.8,1061.5C843.5,1060.5 844.1,1059.5 844.8,1058.5C845.5,1057.5 845.9,1056.4 846.8,1055.5C847.7,1054.6 849,1053.8 850.1,1053C851.3,1052.2 852.2,1051.2 853.5,1050.5C854.7,1049.7 856.3,1049.1 857.7,1048.5C859.1,1047.8 860.5,1046.9 861.8,1046.5C863.2,1046 864.6,1045.9 866,1045.6C867.4,1045.4 868.8,1044.9 870.2,1044.8C871.6,1044.7 873,1044.8 874.4,1044.8C875.8,1044.8 877.3,1044.3 878.6,1044.8C879.8,1045.3 880.8,1046.8 881.9,1047.8C883,1048.8 884.1,1049.8 885.2,1050.8C886.4,1051.8 887.5,1053 888.6,1053.8C889.7,1054.7 890.8,1055.2 891.9,1055.8C893,1056.5 894.2,1057.2 895.3,1057.8C896.4,1058.5 897.4,1059.7 898.6,1059.8C899.9,1060 901.4,1058.9 902.8,1058.5C904.2,1058.1 905.7,1057.6 907,1057.2C908.2,1056.8 909.2,1056.4 910.3,1056.1C911.4,1055.7 912.5,1055.3 913.7,1054.9C914.8,1054.6 915.8,1054.3 917,1053.8C918.3,1053.4 919.8,1052.7 921.2,1052.2C922.6,1051.6 924,1051 925.4,1050.5C926.8,1049.9 928.1,1049.4 929.5,1048.8C930.9,1048.3 932.3,1047.7 933.7,1047.1C935.2,1046.5 936.7,1045.8 938.2,1045.1C939.7,1044.5 941.1,1043.8 942.6,1043.1C944.1,1042.5 945.6,1041.6 947.1,1041.1C948.6,1040.6 950.1,1040.4 951.6,1040C953,1039.6 954.5,1039.3 956,1038.9C957.5,1038.5 959,1038.2 960.5,1037.8C961.9,1037.4 963.3,1037 964.6,1036.6C966,1036.2 967.4,1035.8 968.8,1035.4C970.2,1035 971.6,1034.7 973,1034.3C974.4,1033.9 975.7,1033.4 977.2,1033.1C978.6,1032.8 980.2,1032.7 981.6,1032.4C983.1,1032.2 984.6,1032 986.1,1031.8C987.6,1031.5 989.2,1031.3 990.6,1031.1C991.9,1030.8 993.2,1030.6 994.5,1030.3C995.8,1030.1 997.1,1029.8 998.4,1029.5C999.7,1029.3 1001,1028.5 1002.3,1028.8C1003.6,1029 1004.9,1030.1 1006.2,1030.8C1007.5,1031.4 1008.8,1032.1 1010.1,1032.8C1011.4,1033.4 1012.6,1034.7 1014,1034.8C1015.3,1034.9 1016.9,1033.8 1018.4,1033.3C1019.9,1032.8 1021.4,1032.4 1022.9,1031.9C1024.4,1031.4 1025.8,1030.9 1027.3,1030.4C1028.8,1029.9 1030.3,1029.3 1031.8,1028.8C1033.3,1028.2 1034.8,1027.6 1036.2,1027.1C1037.7,1026.5 1039.3,1025.8 1040.7,1025.4C1042.1,1025 1043.5,1024.8 1044.9,1024.6C1046.3,1024.3 1047.7,1023.9 1049.1,1023.7C1050.4,1023.6 1051.7,1023.7 1053,1023.7C1054.3,1023.7 1055.6,1023.7 1056.9,1023.7C1058.2,1023.7 1059.5,1023.6 1060.8,1023.7C1062.1,1023.8 1063.4,1024.1 1064.7,1024.3C1066,1024.5 1067.3,1024.7 1068.6,1024.8C1069.9,1025 1071.4,1024.8 1072.5,1025.4C1073.5,1026.1 1074.1,1027.6 1075,1028.8C1075.8,1029.9 1076.6,1030.8 1077.5,1032.1C1078.3,1033.3 1079.1,1034.9 1080,1036.3C1080.8,1037.7 1081.6,1039.5 1082.5,1040.5C1083.3,1041.4 1084.2,1041.6 1085,1042.1C1085.8,1042.7 1086.5,1043.7 1087.5,1043.8C1088.5,1043.9 1089.7,1043.2 1090.8,1043C1092,1042.7 1093.1,1042.7 1094.2,1042.1C1095.3,1041.6 1096.4,1040.5 1097.5,1039.6C1098.6,1038.8 1099.8,1037.9 1100.9,1037.1C1102,1036.3 1103.1,1035.7 1104.2,1034.9C1105.3,1034.2 1106.4,1033.3 1107.6,1032.8C1108.7,1032.2 1109.8,1032.1 1110.9,1031.8C1112,1031.4 1113.1,1031.1 1114.2,1030.8C1115.4,1030.4 1116.3,1030 1117.6,1029.8C1118.8,1029.5 1120.4,1029.4 1121.8,1029.3C1123.2,1029.1 1124.6,1028.6 1125.9,1028.8C1127.3,1028.9 1128.7,1029.5 1130.1,1029.9C1131.5,1030.3 1133.2,1030.7 1134.3,1031.1C1135.4,1031.5 1136,1031.8 1136.8,1032.1C1137.6,1032.4 1138.3,1033 1139.3,1033.1C1140.3,1033.2 1141.5,1032.8 1142.7,1032.6C1143.8,1032.4 1144.9,1032.7 1146,1032.1C1147.1,1031.5 1148.2,1030.2 1149.3,1029.3C1150.5,1028.3 1151.6,1027.1 1152.7,1026.4C1153.8,1025.7 1154.9,1025.5 1156,1025.1C1157.1,1024.6 1158.1,1024 1159.4,1023.7C1160.6,1023.5 1162.2,1023.7 1163.6,1023.7C1164.9,1023.7 1166.5,1023.8 1167.7,1023.7C1169,1023.6 1170,1023.4 1171.1,1023.2C1172.2,1023 1173.3,1022.8 1174.4,1022.6C1175.5,1022.4 1177.2,1022.2 1177.8,1022.1" fill="none" stroke="#2962ff" stroke-width="4" stroke-linecap="round" stroke-linejoin="round"/>
<text x="1322.3" y="68.2" font-size="14" fill="#60636e" textLength="34.5" lengthAdjust="spacingAndGlyphs" >15,00</text>
<text x="1322.3" y="111.8" font-size="14" fill="#60636e" textLength="34.5" lengthAdjust="spacingAndGlyphs" >14,00</text>
<text x="1322.3" y="155.4" font-size="14" fill="#60636e" textLength="34.5" lengthAdjust="spacingAndGlyphs" >13,00</text>
<text x="1322.3" y="199" font-size="14" fill="#60636e" textLength="34.5" lengthAdjust="spacingAndGlyphs" >12,00</text>
<text x="1322.3" y="242.6" font-size="14" fill="#60636e" textLength="34.5" lengthAdjust="spacingAndGlyphs" >11,00</text>
<text x="1322.3" y="286.2" font-size="14" fill="#60636e" textLength="34.5" lengthAdjust="spacingAndGlyphs" >10,00</text>
<text x="1322.3" y="329.8" font-size="14" fill="#60636e" textLength="27.1" lengthAdjust="spacingAndGlyphs" >9,00</text>
<text x="1322.3" y="373.4" font-size="14" fill="#60636e" textLength="27.1" lengthAdjust="spacingAndGlyphs" >8,00</text>
<text x="1322.3" y="417" font-size="14" fill="#60636e" textLength="27.1" lengthAdjust="spacingAndGlyphs" >7,00</text>
<text x="1322.3" y="460.6" font-size="14" fill="#60636e" textLength="27.1" lengthAdjust="spacingAndGlyphs" >6,00</text>
<text x="1322.3" y="504.2" font-size="14" fill="#60636e" textLength="27.1" lengthAdjust="spacingAndGlyphs" >5,00</text>
<text x="1322.3" y="547.8" font-size="14" fill="#60636e" textLength="27.1" lengthAdjust="spacingAndGlyphs" >4,00</text>
<text x="1322.3" y="591.2" font-size="14" fill="#60636e" textLength="27.1" lengthAdjust="spacingAndGlyphs" >3,00</text>
<text x="1322.3" y="635.3" font-size="14" fill="#60636e" textLength="34.5" lengthAdjust="spacingAndGlyphs" >2,000</text>
<text x="1322.3" y="678.8" font-size="14" fill="#60636e" textLength="34.5" lengthAdjust="spacingAndGlyphs" >1,000</text>
<text x="1322.3" y="722.5" font-size="14" fill="#60636e" textLength="41.8" lengthAdjust="spacingAndGlyphs" >0,0000</text>
<text x="1322.3" y="765.6" font-size="14" fill="#60636e" textLength="41.8" lengthAdjust="spacingAndGlyphs" >−1,000</text>
<text x="1322.3" y="809.4" font-size="14" fill="#60636e" textLength="41.8" lengthAdjust="spacingAndGlyphs" >−2,000</text>
<text x="1322.3" y="857.2" font-size="14" fill="#60636e" textLength="34.5" lengthAdjust="spacingAndGlyphs" >2,000</text>
<text x="1322.3" y="925.2" font-size="14" fill="#60636e" textLength="41.8" lengthAdjust="spacingAndGlyphs" >0,0000</text>
<text x="1322.3" y="993.8" font-size="14" fill="#60636e" textLength="41.8" lengthAdjust="spacingAndGlyphs" >−2,000</text>
<text x="1322.3" y="1039.1" font-size="14" fill="#60636e" textLength="27.1" lengthAdjust="spacingAndGlyphs" >80,0</text>
<text x="1322.3" y="1077" font-size="14" fill="#60636e" textLength="27.1" lengthAdjust="spacingAndGlyphs" >40,0</text>
<text x="1322.3" y="1115.1" font-size="14" fill="#60636e" textLength="41.8" lengthAdjust="spacingAndGlyphs" >0,0000</text>
<text x="1322.3" y="1148" font-size="14" fill="#60636e" textLength="41.8" lengthAdjust="spacingAndGlyphs" >0,0000</text>
<path d="M1276,584.4 H1362 a2,2 0 0 1 2,2 V619.5 a2,2 0 0 1 -2,2 H1311.5 V605 H1276 a2,2 0 0 1 -2,-2 V586.4 a2,2 0 0 1 2,-2 Z" fill="#828282"/>
<text x="1279.7" y="599.6" font-size="13.5" fill="#ffffff" font-weight="bold" textLength="26.2" lengthAdjust="spacingAndGlyphs" >DOX</text>
<text x="1323.3" y="599" font-size="14" fill="#ffffff" font-weight="bold" textLength="27.4" lengthAdjust="spacingAndGlyphs" >2,85</text>
<text x="1323.3" y="615.8" font-size="13.5" fill="#ececec" textLength="35" lengthAdjust="spacingAndGlyphs" stroke="#ececec" stroke-width="0.35">3d 8h</text>
<text x="44.7" y="1191" font-size="14" fill="#6f727d" font-weight="bold" text-anchor="middle" textLength="32.3" lengthAdjust="spacingAndGlyphs" >2020</text>
<text x="241.8" y="1191" font-size="14" fill="#6f727d" font-weight="bold" text-anchor="middle" textLength="32.3" lengthAdjust="spacingAndGlyphs" >2021</text>
<text x="440" y="1191" font-size="14" fill="#6f727d" font-weight="bold" text-anchor="middle" textLength="32.3" lengthAdjust="spacingAndGlyphs" >2022</text>
<text x="637.5" y="1191" font-size="14" fill="#6f727d" font-weight="bold" text-anchor="middle" textLength="32.3" lengthAdjust="spacingAndGlyphs" >2023</text>
<text x="835.3" y="1191" font-size="14" fill="#6f727d" font-weight="bold" text-anchor="middle" textLength="32.3" lengthAdjust="spacingAndGlyphs" >2024</text>
<text x="1036.8" y="1191" font-size="14" fill="#6f727d" font-weight="bold" text-anchor="middle" textLength="32.3" lengthAdjust="spacingAndGlyphs" >2025</text>
<text x="1235.3" y="1191" font-size="14" fill="#6f727d" font-weight="bold" text-anchor="middle" textLength="32.3" lengthAdjust="spacingAndGlyphs" >2026</text>
<text x="143" y="1191" font-size="14" fill="#6f727d" text-anchor="middle" textLength="21.5" lengthAdjust="spacingAndGlyphs" >Lug</text>
<text x="340.7" y="1191" font-size="14" fill="#6f727d" text-anchor="middle" textLength="21.5" lengthAdjust="spacingAndGlyphs" >Lug</text>
<text x="539" y="1191" font-size="14" fill="#6f727d" text-anchor="middle" textLength="21.5" lengthAdjust="spacingAndGlyphs" >Lug</text>
<text x="736.3" y="1191" font-size="14" fill="#6f727d" text-anchor="middle" textLength="21.5" lengthAdjust="spacingAndGlyphs" >Lug</text>
<text x="934.5" y="1191" font-size="14" fill="#6f727d" text-anchor="middle" textLength="21.5" lengthAdjust="spacingAndGlyphs" >Lug</text>
<text x="1136.3" y="1191" font-size="14" fill="#6f727d" text-anchor="middle" textLength="21.5" lengthAdjust="spacingAndGlyphs" >Lug</text>
<g fill="none" stroke="#d6d6d8" stroke-width="1.4"><path d="M1335.6,1185.7 L1339.8,1178.6 H1348.2 L1352.4,1185.7 L1348.2,1192.8 H1339.8 Z"/><circle cx="1344" cy="1185.7" r="2.5"/></g>
<g fill="#e4e4e4"><path d="M15.3,1134 H30 V1151.8 H22.2 V1141.6 H15.3 Z"/><circle cx="35.8" cy="1137.6" r="3.5"/><path d="M43.5,1134 H51.4 L44.4,1151.8 H36.2 Z"/></g>
<circle cx="22.6" cy="21" r="10.4" fill="#f7f7f9"/>
<text x="22.6" y="26.6" font-size="17" fill="#f2700f" font-weight="bold" text-anchor="middle" >d</text>
<text x="38.7" y="27.8" font-size="19" fill="#6c6f7a" textLength="193.6" lengthAdjust="spacingAndGlyphs" >Doxee S.p.A. <tspan font-size="11" dy="-1.5">•</tspan><tspan dy="1.5"> 1W </tspan><tspan font-size="11" dy="-1.5">•</tspan><tspan dy="1.5"> MIL</tspan></text>
<path d="M247.4,15.2 H261 L256.6,21.3 L261,27.5 H247.4 Z" fill="#5e6068"/>
<path d="M287.8,10 L299,21 L287.8,32 L276.6,21 Z" fill="#f7981c"/>
<circle cx="328.9" cy="21" r="11.3" fill="#17353a"/><circle cx="328.9" cy="21" r="5.4" fill="#22a68f"/>
<text x="358.5" y="27.2" font-size="15" fill="#6c6f7a" textLength="59.7" lengthAdjust="spacingAndGlyphs" >O - Aper.</text>
<text x="420.9" y="27.2" font-size="15" fill="#9a9ca4" textLength="30.1" lengthAdjust="spacingAndGlyphs" >2,95</text>
<text x="459.4" y="27.2" font-size="15" fill="#6c6f7a" textLength="55.9" lengthAdjust="spacingAndGlyphs" >H - Max.</text>
<text x="517.2" y="27.2" font-size="15" fill="#9a9ca4" textLength="29.7" lengthAdjust="spacingAndGlyphs" >2,96</text>
<text x="555.7" y="27.2" font-size="15" fill="#6c6f7a" textLength="50.1" lengthAdjust="spacingAndGlyphs" >L - Min.</text>
<text x="608.5" y="27.2" font-size="15" fill="#9a9ca4" textLength="28.9" lengthAdjust="spacingAndGlyphs" >2,77</text>
<text x="646.2" y="27.2" font-size="15" fill="#6c6f7a" textLength="65.5" lengthAdjust="spacingAndGlyphs" >C - Chius.</text>
<text x="714.4" y="27.2" font-size="15" fill="#9a9ca4" textLength="29.3" lengthAdjust="spacingAndGlyphs" >2,85</text>
<text x="752.2" y="27.2" font-size="15" fill="#9a9ca4" textLength="101.3" lengthAdjust="spacingAndGlyphs" >−0,11 (−3,72%)</text>
<rect x="11.5" y="40.5" width="62" height="40" rx="5.5" ry="5.5" fill="#0f0f10" stroke="#d2334a" stroke-width="1"/>
<text x="42.7" y="58.3" font-size="13.5" fill="#f23645" font-weight="bold" text-anchor="middle" textLength="28.5" lengthAdjust="spacingAndGlyphs" >2,85</text>
<text x="42.7" y="72.8" font-size="12" fill="#f23645" text-anchor="middle" textLength="36.5" lengthAdjust="spacingAndGlyphs" >VENDI</text>
<text x="95.5" y="65" font-size="12.5" fill="#e4e5e9" text-anchor="middle" textLength="23.6" lengthAdjust="spacingAndGlyphs" >0,00</text>
<rect x="117.5" y="40.5" width="77" height="40" rx="5.5" ry="5.5" fill="#0f0f10" stroke="#2a5ae6" stroke-width="1"/>
<text x="156" y="58.3" font-size="13.5" fill="#2962ff" font-weight="bold" text-anchor="middle" textLength="28.5" lengthAdjust="spacingAndGlyphs" >2,85</text>
<text x="156" y="72.8" font-size="12" fill="#2962ff" text-anchor="middle" textLength="51" lengthAdjust="spacingAndGlyphs" >COMPRA</text>
<rect x="11.5" y="90.5" width="45" height="23" rx="3" ry="3" fill="none" stroke="#343741" stroke-width="1"/>
<path d="M19.6,100.2 L23,103.6 L26.4,100.2" fill="none" stroke="#d1d4dc" stroke-width="1.6" stroke-linecap="round" stroke-linejoin="round"/>
<text x="35.3" y="107" font-size="14" fill="#d6d8de" textLength="15.7" lengthAdjust="spacingAndGlyphs" >14</text>
<rect x="1173.5" y="13.5" width="126.5" height="46.5" fill="#002dff" stroke="#1fa37a" stroke-width="1"/>
<rect x="1173" y="13" width="127.5" height="1" fill="#0d5a1a"/>
<rect x="1229" y="14" width="2" height="45.5" fill="#001c8f"/>
<text x="1185.3" y="44.2" font-size="23" fill="#ffffff" textLength="31.1" lengthAdjust="spacingAndGlyphs" stroke="#ffffff" stroke-width="0.7">ETI</text>
<text x="1240.8" y="44.2" font-size="23" fill="#ffffff" textLength="44.5" lengthAdjust="spacingAndGlyphs" stroke="#ffffff" stroke-width="0.7">1.34</text>
<rect x="1316.5" y="7.5" width="54" height="30.5" rx="4" ry="4" fill="#0f0f10" stroke="#4a4d57" stroke-width="1"/>
<text x="1321.5" y="27.4" font-size="14" fill="#e6e6e8" textLength="24.5" lengthAdjust="spacingAndGlyphs" >EUR</text>
<path d="M1359.4,20.4 L1362.3,23.3 L1365.2,20.4" fill="none" stroke="#e6e6e8" stroke-width="1.5" stroke-linecap="round" stroke-linejoin="round"/>
</svg>
</body></html>
